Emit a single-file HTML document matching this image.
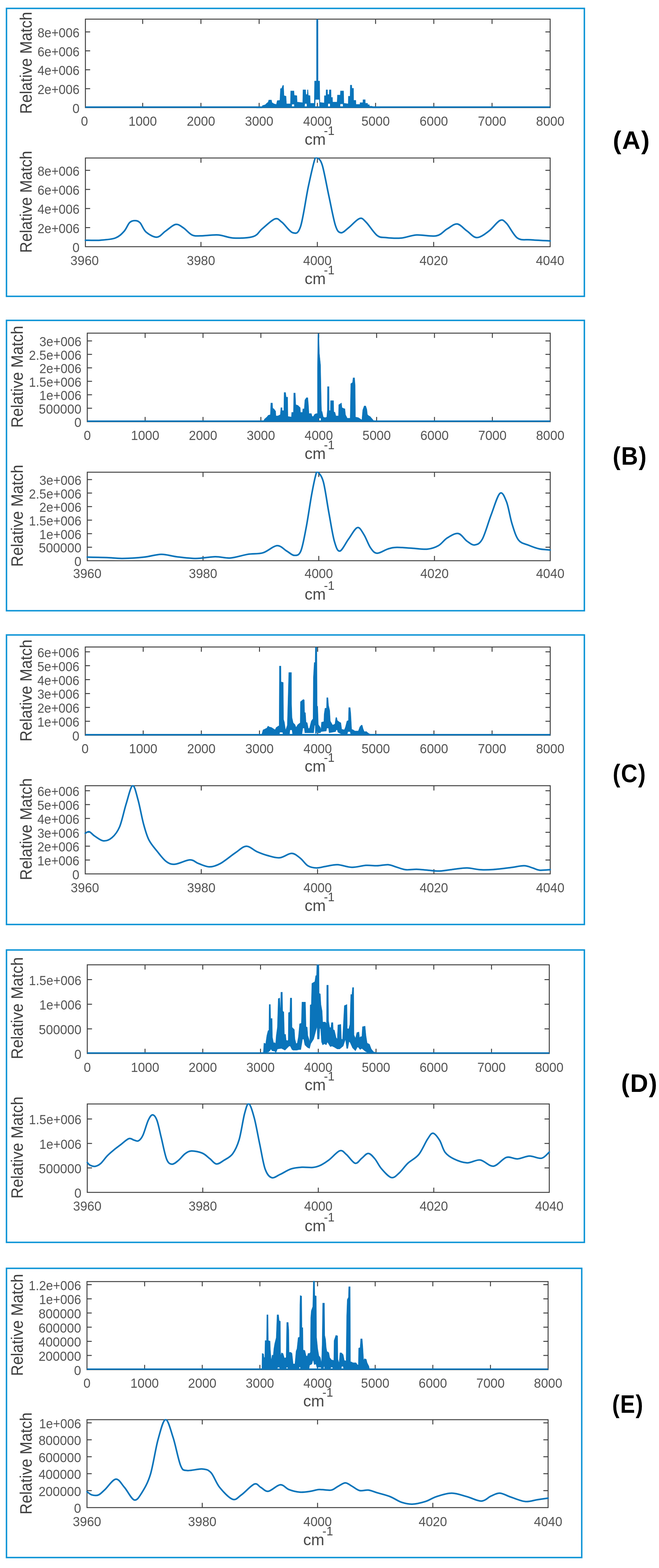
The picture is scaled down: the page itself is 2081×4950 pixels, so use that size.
<!DOCTYPE html>
<html><head><meta charset="utf-8"><title>Relative Match spectra</title>
<style>
html,body{margin:0;padding:0;background:#fff;}
body{width:2081px;height:4950px;overflow:hidden;}
svg{display:block;}
.t{font-family:"Liberation Sans", Arial, Helvetica, sans-serif;font-size:42px;fill:#555555;}
.xl{font-family:"Liberation Sans", Arial, Helvetica, sans-serif;font-size:50px;fill:#4a4a4a;}
.sup{font-size:38px;}
.yl{font-family:"Liberation Sans", Arial, Helvetica, sans-serif;font-size:51px;fill:#404040;}
.lab{font-family:"Liberation Sans", Arial, Helvetica, sans-serif;font-size:80px;font-weight:bold;fill:#000;letter-spacing:2.5px;}
</style></head><body>
<svg width="2081" height="4950" viewBox="0 0 2081 4950">
<rect width="2081" height="4950" fill="#fff"/>
<rect x="20.5" y="26.5" width="1824.8" height="909.0" fill="none" stroke="#0d94d6" stroke-width="4.6"/>
<rect x="269.7" y="60.4" width="1467.6" height="279.3" fill="none" stroke="#404040" stroke-width="3"/>
<text transform="translate(251.2,356.7) scale(0.96,1)" text-anchor="end" class="t">0</text>
<path d="M269.7,280.0h15M1737.3,280.0h-15" stroke="#404040" stroke-width="3"/>
<text transform="translate(251.2,297.0) scale(0.94,1)" text-anchor="end" class="t">2e+006</text>
<path d="M269.7,220.3h15M1737.3,220.3h-15" stroke="#404040" stroke-width="3"/>
<text transform="translate(251.2,237.3) scale(0.94,1)" text-anchor="end" class="t">4e+006</text>
<path d="M269.7,160.5h15M1737.3,160.5h-15" stroke="#404040" stroke-width="3"/>
<text transform="translate(251.2,177.5) scale(0.94,1)" text-anchor="end" class="t">6e+006</text>
<path d="M269.7,100.8h15M1737.3,100.8h-15" stroke="#404040" stroke-width="3"/>
<text transform="translate(251.2,117.8) scale(0.94,1)" text-anchor="end" class="t">8e+006</text>
<text transform="translate(266.8,397.0) scale(0.96,1)" text-anchor="middle" class="t">0</text>
<path d="M450.6,339.7v-15M450.6,60.4v15" stroke="#404040" stroke-width="3"/>
<text transform="translate(450.6,397.0) scale(0.96,1)" text-anchor="middle" class="t">1000</text>
<path d="M634.5,339.7v-15M634.5,60.4v15" stroke="#404040" stroke-width="3"/>
<text transform="translate(634.5,397.0) scale(0.96,1)" text-anchor="middle" class="t">2000</text>
<path d="M818.3,339.7v-15M818.3,60.4v15" stroke="#404040" stroke-width="3"/>
<text transform="translate(818.3,397.0) scale(0.96,1)" text-anchor="middle" class="t">3000</text>
<path d="M1002.2,339.7v-15M1002.2,60.4v15" stroke="#404040" stroke-width="3"/>
<text transform="translate(1002.2,397.0) scale(0.96,1)" text-anchor="middle" class="t">4000</text>
<path d="M1186.0,339.7v-15M1186.0,60.4v15" stroke="#404040" stroke-width="3"/>
<text transform="translate(1186.0,397.0) scale(0.96,1)" text-anchor="middle" class="t">5000</text>
<path d="M1369.9,339.7v-15M1369.9,60.4v15" stroke="#404040" stroke-width="3"/>
<text transform="translate(1369.9,397.0) scale(0.96,1)" text-anchor="middle" class="t">6000</text>
<path d="M1553.8,339.7v-15M1553.8,60.4v15" stroke="#404040" stroke-width="3"/>
<text transform="translate(1553.8,397.0) scale(0.96,1)" text-anchor="middle" class="t">7000</text>
<text transform="translate(1737.6,397.0) scale(0.96,1)" text-anchor="middle" class="t">8000</text>
<clipPath id="c60"><rect x="266.7" y="58.4" width="1473.6" height="283.3"/></clipPath>
<g clip-path="url(#c60)">
<line x1="269.7" y1="338.09999999999997" x2="1737.3" y2="338.09999999999997" stroke="#0a74ba" stroke-width="4.6"/>
<path d="M810.0,339.9 L811.0,339.9 L812.0,339.9 L813.0,339.9 L814.0,339.9 L815.0,339.9 L816.0,339.9 L817.0,339.9 L818.0,339.9 L819.0,339.9 L820.0,339.9 L821.0,339.9 L822.0,339.9 L823.0,339.9 L824.0,339.9 L825.0,339.9 L826.0,339.9 L827.0,339.9 L827.5,339.9 L828.0,336.7 L828.5,333.4 L829.0,333.3 L830.0,333.0 L831.0,332.7 L832.0,332.4 L833.0,332.1 L834.0,331.8 L835.0,331.5 L836.0,331.2 L837.0,330.9 L837.7,330.6 L838.0,330.3 L839.0,329.3 L840.0,328.3 L841.0,327.3 L842.0,326.3 L842.3,326.0 L843.0,325.5 L844.0,324.7 L845.0,323.9 L846.0,323.1 L846.9,322.3 L847.0,322.1 L848.0,318.6 L848.8,315.9 L849.0,315.9 L850.0,315.9 L851.0,315.9 L852.0,315.9 L853.0,315.9 L854.0,315.9 L855.0,315.9 L856.0,315.9 L857.0,315.9 L857.1,315.9 L858.0,320.0 L858.9,324.2 L859.0,324.2 L860.0,324.8 L861.0,325.4 L862.0,325.9 L863.0,326.5 L864.0,327.1 L865.0,327.6 L865.4,327.9 L866.0,328.0 L867.0,328.3 L868.0,328.5 L869.0,328.8 L870.0,329.0 L871.0,329.3 L872.0,329.5 L872.8,329.7 L873.0,328.8 L874.0,324.5 L875.0,320.1 L875.6,317.7 L876.0,317.7 L877.0,317.6 L878.0,317.4 L879.0,317.3 L880.0,317.2 L881.0,317.1 L882.0,317.0 L883.0,316.9 L883.9,316.8 L884.0,314.2 L885.0,294.2 L885.7,279.9 L886.0,279.8 L887.0,279.5 L888.0,279.3 L889.0,279.0 L889.4,278.9 L890.0,277.5 L891.0,275.0 L892.0,272.5 L893.0,270.0 L893.1,269.7 L894.0,269.7 L895.0,269.7 L895.3,269.7 L896.0,284.6 L896.8,302.0 L897.0,302.1 L898.0,302.4 L899.0,302.7 L900.0,302.9 L901.0,303.2 L902.0,303.5 L903.0,303.8 L903.3,303.9 L904.0,317.6 L904.6,327.9 L905.0,327.9 L906.0,327.9 L907.0,327.9 L908.0,327.9 L909.0,327.9 L910.0,327.9 L911.0,327.9 L912.0,327.9 L913.0,327.9 L914.0,327.9 L915.0,327.9 L916.0,327.9 L917.0,327.9 L917.1,327.9 L918.0,288.7 L918.0,287.2 L919.0,287.2 L920.0,287.2 L920.8,287.2 L921.0,287.2 L921.7,287.2 L922.0,287.2 L923.0,287.2 L924.0,287.2 L925.0,287.2 L926.0,287.2 L927.0,287.2 L928.0,287.2 L928.2,287.2 L929.0,299.4 L929.1,301.1 L930.0,301.2 L930.0,301.2 L931.0,301.3 L932.0,301.4 L933.0,301.5 L934.0,301.6 L935.0,301.8 L936.0,301.9 L937.0,302.0 L937.4,302.0 L938.0,314.7 L938.3,322.3 L939.0,322.4 L940.0,322.5 L941.0,322.6 L942.0,322.7 L943.0,322.8 L944.0,322.9 L945.0,323.0 L946.0,323.1 L947.0,323.2 L948.0,323.4 L949.0,323.5 L950.0,323.6 L951.0,323.7 L952.0,323.8 L953.0,323.9 L954.0,324.0 L955.0,324.1 L955.9,324.2 L956.0,319.4 L956.8,283.6 L957.0,283.6 L958.0,283.6 L959.0,283.6 L960.0,283.6 L961.0,283.6 L961.4,283.6 L962.0,283.6 L962.4,283.6 L963.0,283.6 L964.0,283.6 L965.0,283.6 L965.1,283.6 L966.0,297.6 L966.0,298.3 L967.0,298.3 L968.0,298.3 L968.8,298.3 L969.0,298.3 L969.7,298.3 L970.0,298.3 L970.3,298.3 L971.0,284.2 L971.0,283.6 L972.0,283.6 L972.5,283.6 L973.0,292.8 L973.4,301.1 L974.0,301.2 L975.0,301.4 L976.0,301.5 L977.0,301.7 L978.0,301.9 L979.0,302.0 L979.0,302.7 L979.9,326.0 L980.0,326.0 L981.0,326.0 L982.0,326.0 L983.0,326.0 L984.0,326.0 L985.0,326.0 L986.0,326.0 L987.0,326.0 L988.0,326.0 L989.0,326.0 L990.0,326.0 L991.0,326.0 L992.0,326.0 L992.5,326.0 L993.0,284.7 L993.4,255.9 L994.0,255.9 L994.7,255.9 L995.0,255.9 L995.6,255.9 L996.0,255.9 L997.0,255.9 L998.0,255.9 L999.0,255.9 L1000.0,255.9 L1001.0,255.9 L1002.0,255.9 L1003.0,255.9 L1004.0,255.9 L1005.0,255.9 L1006.0,255.9 L1007.0,255.9 L1008.0,255.9 L1008.3,255.9 L1009.0,255.9 L1009.2,255.9 L1010.0,311.8 L1010.2,323.3 L1011.0,323.4 L1012.0,323.5 L1013.0,323.6 L1014.0,323.8 L1015.0,323.9 L1016.0,324.0 L1017.0,324.2 L1018.0,324.3 L1019.0,324.4 L1020.0,324.6 L1021.0,324.7 L1022.0,324.8 L1023.0,325.0 L1024.0,325.1 L1024.0,325.1 L1024.4,302.0 L1025.0,302.0 L1026.0,302.0 L1027.0,302.0 L1028.0,302.0 L1029.0,302.0 L1029.5,302.0 L1029.9,283.6 L1030.0,283.6 L1031.0,283.6 L1032.0,283.6 L1033.0,283.6 L1034.0,283.6 L1034.2,283.6 L1034.5,298.3 L1035.0,298.3 L1035.1,298.3 L1035.5,298.3 L1036.0,298.3 L1037.0,298.3 L1038.0,298.3 L1039.0,298.3 L1039.7,298.3 L1040.0,286.5 L1040.1,283.6 L1041.0,283.6 L1042.0,283.6 L1042.5,283.6 L1042.8,283.6 L1043.0,283.6 L1044.0,283.6 L1045.0,283.6 L1045.2,283.6 L1045.6,307.6 L1046.0,307.6 L1047.0,307.6 L1048.0,307.6 L1049.0,307.6 L1049.9,307.6 L1050.0,313.1 L1050.2,322.3 L1051.0,322.3 L1052.0,322.3 L1053.0,322.3 L1054.0,322.3 L1055.0,322.3 L1056.0,322.3 L1057.0,322.3 L1058.0,322.3 L1059.0,322.3 L1060.0,322.3 L1061.0,322.3 L1062.0,322.3 L1063.0,322.3 L1064.0,322.3 L1064.6,322.3 L1065.0,313.6 L1065.6,300.2 L1066.0,300.2 L1067.0,300.2 L1068.0,300.2 L1069.0,300.2 L1070.0,300.2 L1071.0,300.2 L1072.0,300.2 L1073.0,300.2 L1073.9,300.2 L1074.0,300.2 L1074.2,300.2 L1074.8,300.2 L1075.0,292.9 L1075.2,287.2 L1076.0,287.2 L1077.0,287.2 L1078.0,287.2 L1079.0,287.2 L1080.0,287.2 L1081.0,287.2 L1082.0,287.2 L1083.0,287.2 L1083.1,287.2 L1083.5,287.2 L1084.0,287.2 L1084.9,287.2 L1085.0,289.4 L1085.9,326.0 L1086.0,326.0 L1087.0,326.2 L1088.0,326.3 L1089.0,326.4 L1090.0,326.6 L1091.0,326.7 L1092.0,326.8 L1093.0,327.0 L1094.0,327.1 L1095.0,327.2 L1096.0,327.4 L1097.0,327.5 L1098.0,327.6 L1099.0,327.8 L1099.7,327.9 L1100.0,309.9 L1100.1,303.9 L1101.0,303.9 L1102.0,303.9 L1103.0,303.9 L1104.0,303.9 L1105.0,303.9 L1105.6,303.9 L1106.0,280.6 L1106.2,268.8 L1107.0,268.8 L1108.0,268.8 L1109.0,268.8 L1110.0,268.8 L1110.8,268.8 L1111.0,274.2 L1111.2,278.9 L1112.0,278.9 L1113.0,278.9 L1114.0,278.9 L1115.0,278.9 L1116.0,278.9 L1116.3,278.9 L1116.7,316.8 L1117.0,316.8 L1118.0,316.8 L1119.0,316.8 L1120.0,316.8 L1121.0,316.8 L1122.0,316.8 L1123.0,316.8 L1123.7,316.8 L1124.0,326.2 L1124.1,329.7 L1125.0,329.7 L1126.0,329.7 L1127.0,329.7 L1128.0,329.7 L1129.0,329.7 L1130.0,329.7 L1131.0,329.7 L1132.0,329.7 L1133.0,329.7 L1134.0,329.7 L1135.0,329.7 L1136.0,329.7 L1136.7,329.7 L1137.0,324.6 L1137.0,324.2 L1138.0,324.2 L1139.0,324.2 L1140.0,324.2 L1141.0,324.2 L1142.0,324.2 L1143.0,324.2 L1144.0,324.2 L1145.0,324.2 L1145.9,324.2 L1146.0,321.5 L1146.3,314.9 L1147.0,314.9 L1148.0,314.9 L1149.0,314.9 L1150.0,314.9 L1151.0,314.9 L1152.0,314.9 L1153.0,314.9 L1153.3,314.9 L1153.6,326.0 L1154.0,326.0 L1155.0,326.0 L1156.0,326.0 L1157.0,326.0 L1158.0,326.0 L1159.0,326.0 L1160.0,326.0 L1160.7,326.0 L1161.0,330.2 L1161.0,330.6 L1162.0,330.6 L1163.0,330.6 L1164.0,330.6 L1165.0,330.6 L1166.0,330.6 L1166.2,330.6 L1166.6,335.3 L1167.0,335.3 L1168.0,335.3 L1169.0,335.3 L1170.0,335.3 L1171.0,335.3 L1172.0,335.3 L1173.0,335.3 L1174.0,335.3 L1175.0,335.3 L1175.4,335.3 L1176.0,338.1 L1176.4,339.9 L1177.0,339.9 L1178.0,339.9 L1179.0,339.9 L1180.0,339.9 L1181.0,339.9 L1182.0,339.9 L1183.0,339.9 L1184.0,339.9 L1185.0,339.9 L1186.0,339.9 L1187.0,339.9 L1188.0,339.9 L1189.0,339.9 L1190.0,339.9 L1191.0,339.9 L1192.0,339.9 L1193.0,339.9 L1194.0,339.9 L1195.0,339.9 L1196.0,339.9 L1197.0,339.9 L1198.0,339.9 L1199.0,339.9 L1200.0,339.9 L1200.0,340.9 L1199.0,340.9 L1198.0,340.9 L1197.0,340.9 L1196.0,340.9 L1195.0,340.9 L1194.0,340.9 L1193.0,340.9 L1192.0,340.9 L1191.0,340.9 L1190.0,340.9 L1189.0,340.9 L1188.0,340.9 L1187.0,340.9 L1186.0,340.9 L1185.0,340.9 L1184.0,340.9 L1183.0,340.9 L1182.0,340.9 L1181.0,340.9 L1180.0,340.9 L1179.0,340.9 L1178.0,340.9 L1177.0,340.9 L1176.4,340.9 L1176.0,339.1 L1175.4,338.7 L1175.0,338.7 L1174.0,338.7 L1173.0,338.7 L1172.0,338.7 L1171.0,338.7 L1170.0,338.7 L1169.0,338.7 L1168.0,338.7 L1167.0,338.7 L1166.6,338.7 L1166.2,338.7 L1166.0,338.7 L1165.0,338.7 L1164.0,338.7 L1163.0,338.7 L1162.0,338.7 L1161.0,338.7 L1161.0,338.7 L1160.7,338.7 L1160.0,338.7 L1159.0,338.7 L1158.0,338.7 L1157.0,338.7 L1156.0,338.7 L1155.0,338.7 L1154.0,338.7 L1153.6,338.7 L1153.3,338.7 L1153.0,338.7 L1152.0,338.7 L1151.0,338.7 L1150.0,338.7 L1149.0,338.7 L1148.0,338.7 L1147.0,338.7 L1146.3,338.7 L1146.0,338.7 L1145.9,338.7 L1145.0,338.7 L1144.0,338.7 L1143.0,338.7 L1142.0,338.7 L1141.0,338.7 L1140.0,338.7 L1139.0,338.7 L1138.0,338.7 L1137.0,338.7 L1137.0,338.7 L1136.7,338.7 L1136.0,338.7 L1135.0,338.7 L1134.0,338.7 L1133.0,338.7 L1132.0,338.7 L1131.0,338.7 L1130.0,338.7 L1129.0,338.7 L1128.0,338.7 L1127.0,338.7 L1126.0,338.7 L1125.0,338.7 L1124.1,338.7 L1124.0,338.7 L1123.7,338.7 L1123.0,338.7 L1122.0,338.7 L1121.0,338.7 L1120.0,338.7 L1119.0,338.7 L1118.0,338.7 L1117.0,338.7 L1116.7,338.7 L1116.3,338.7 L1116.0,338.7 L1115.0,338.7 L1114.0,338.7 L1113.0,338.7 L1112.0,338.7 L1111.2,338.7 L1111.0,338.7 L1110.8,338.7 L1110.0,338.7 L1109.0,338.7 L1108.0,338.7 L1107.0,338.7 L1106.2,338.7 L1106.0,338.7 L1105.6,338.7 L1105.0,338.7 L1104.0,338.7 L1103.0,338.7 L1102.0,338.7 L1101.0,338.7 L1100.1,338.7 L1100.0,338.7 L1099.7,338.7 L1099.0,338.7 L1098.0,338.7 L1097.0,338.7 L1096.0,338.7 L1095.0,338.7 L1094.0,338.7 L1093.0,338.7 L1092.0,338.7 L1091.0,338.7 L1090.0,338.7 L1089.0,338.7 L1088.0,338.7 L1087.0,338.7 L1086.0,338.7 L1085.9,338.7 L1085.0,338.7 L1084.9,338.7 L1084.0,338.7 L1083.5,338.7 L1083.1,327.9 L1083.0,327.9 L1082.0,327.9 L1081.0,327.9 L1080.0,327.9 L1079.0,327.9 L1078.0,327.9 L1077.0,327.9 L1076.0,327.9 L1075.2,327.9 L1075.0,327.9 L1074.8,327.9 L1074.2,327.9 L1074.0,335.6 L1073.9,338.7 L1073.0,338.7 L1072.0,338.7 L1071.0,338.7 L1070.0,338.7 L1069.0,338.7 L1068.0,338.7 L1067.0,338.7 L1066.0,338.7 L1065.6,338.7 L1065.0,338.7 L1064.6,338.7 L1064.0,338.7 L1063.0,338.7 L1062.0,338.7 L1061.0,338.7 L1060.0,338.7 L1059.0,338.7 L1058.0,338.7 L1057.0,338.7 L1056.0,338.7 L1055.0,338.7 L1054.0,338.7 L1053.0,338.7 L1052.0,338.7 L1051.0,338.7 L1050.2,338.7 L1050.0,338.7 L1049.9,338.7 L1049.0,338.7 L1048.0,338.7 L1047.0,338.7 L1046.0,338.7 L1045.6,338.7 L1045.2,338.7 L1045.0,338.7 L1044.0,338.7 L1043.0,338.7 L1042.8,338.7 L1042.5,327.0 L1042.0,327.0 L1041.0,327.0 L1040.1,327.0 L1040.0,327.0 L1039.7,327.0 L1039.0,327.0 L1038.0,327.0 L1037.0,327.0 L1036.0,327.0 L1035.5,327.0 L1035.1,338.7 L1035.0,338.7 L1034.5,338.7 L1034.2,338.7 L1034.0,338.7 L1033.0,338.7 L1032.0,338.7 L1031.0,338.7 L1030.0,338.7 L1029.9,338.7 L1029.5,338.7 L1029.0,338.7 L1028.0,338.7 L1027.0,338.7 L1026.0,338.7 L1025.0,338.7 L1024.4,338.7 L1024.0,338.7 L1024.0,338.7 L1023.0,338.7 L1022.0,338.7 L1021.0,338.7 L1020.0,338.7 L1019.0,338.7 L1018.0,338.7 L1017.0,338.7 L1016.0,338.7 L1015.0,338.7 L1014.0,338.7 L1013.0,338.7 L1012.0,338.7 L1011.0,338.7 L1010.2,338.7 L1010.0,338.7 L1009.2,338.7 L1009.0,333.3 L1008.3,314.0 L1008.0,314.0 L1007.0,314.0 L1006.0,314.0 L1005.0,314.0 L1004.0,314.0 L1003.0,314.0 L1002.0,314.0 L1001.0,314.0 L1000.0,314.0 L999.0,314.0 L998.0,314.0 L997.0,314.0 L996.0,314.0 L995.6,314.0 L995.0,330.7 L994.7,338.7 L994.0,338.7 L993.4,338.7 L993.0,338.7 L992.5,338.7 L992.0,338.7 L991.0,338.7 L990.0,338.7 L989.0,338.7 L988.0,338.7 L987.0,338.7 L986.0,338.7 L985.0,338.7 L984.0,338.7 L983.0,338.7 L982.0,338.7 L981.0,338.7 L980.0,338.7 L979.9,338.7 L979.0,338.7 L979.0,338.7 L978.0,338.7 L977.0,338.7 L976.0,338.7 L975.0,338.7 L974.0,338.7 L973.4,338.7 L973.0,338.7 L972.5,338.7 L972.0,338.7 L971.0,338.7 L971.0,338.7 L970.3,338.7 L970.0,338.7 L969.7,338.7 L969.0,329.5 L968.8,327.0 L968.0,327.0 L967.0,327.0 L966.0,327.0 L966.0,327.0 L965.1,327.0 L965.0,327.0 L964.0,327.0 L963.0,327.0 L962.4,327.0 L962.0,331.9 L961.4,338.7 L961.0,338.7 L960.0,338.7 L959.0,338.7 L958.0,338.7 L957.0,338.7 L956.8,338.7 L956.0,338.7 L955.9,338.7 L955.0,338.7 L954.0,338.7 L953.0,338.7 L952.0,338.7 L951.0,338.7 L950.0,338.7 L949.0,338.7 L948.0,338.7 L947.0,338.7 L946.0,338.7 L945.0,338.7 L944.0,338.7 L943.0,338.7 L942.0,338.7 L941.0,338.7 L940.0,338.7 L939.0,338.7 L938.3,338.7 L938.0,338.7 L937.4,338.7 L937.0,338.7 L936.0,338.7 L935.0,338.7 L934.0,338.7 L933.0,338.7 L932.0,338.7 L931.0,338.7 L930.0,338.7 L930.0,338.7 L929.1,328.8 L929.0,328.8 L928.2,328.8 L928.0,328.8 L927.0,328.8 L926.0,328.8 L925.0,328.8 L924.0,328.8 L923.0,328.8 L922.0,328.8 L921.7,328.8 L921.0,337.5 L920.8,338.7 L920.0,338.7 L919.0,338.7 L918.0,338.7 L918.0,338.7 L917.1,338.7 L917.0,338.7 L916.0,338.7 L915.0,338.7 L914.0,338.7 L913.0,338.7 L912.0,338.7 L911.0,338.7 L910.0,338.7 L909.0,338.7 L908.0,338.7 L907.0,338.7 L906.0,338.7 L905.0,338.7 L904.6,338.7 L904.0,338.7 L903.3,338.7 L903.0,338.7 L902.0,338.7 L901.0,338.7 L900.0,338.7 L899.0,338.7 L898.0,338.7 L897.0,338.7 L896.8,338.7 L896.0,338.7 L895.3,338.7 L895.0,338.7 L894.0,338.7 L893.1,338.7 L893.0,338.7 L892.0,338.7 L891.0,338.7 L890.0,338.7 L889.4,338.7 L889.0,338.7 L888.0,338.7 L887.0,338.7 L886.0,338.7 L885.7,338.7 L885.0,338.7 L884.0,338.7 L883.9,338.7 L883.0,338.7 L882.0,338.7 L881.0,338.7 L880.0,338.7 L879.0,338.7 L878.0,338.7 L877.0,338.7 L876.0,338.7 L875.6,338.7 L875.0,338.7 L874.0,338.7 L873.0,338.7 L872.8,338.7 L872.0,338.7 L871.0,338.7 L870.0,338.7 L869.0,338.7 L868.0,338.7 L867.0,338.7 L866.0,338.7 L865.4,338.7 L865.0,338.7 L864.0,338.7 L863.0,338.7 L862.0,338.7 L861.0,338.7 L860.0,338.7 L859.0,338.7 L858.9,338.7 L858.0,338.7 L857.1,338.7 L857.0,338.7 L856.0,338.7 L855.0,338.7 L854.0,338.7 L853.0,338.7 L852.0,338.7 L851.0,338.7 L850.0,338.7 L849.0,338.7 L848.8,338.7 L848.0,338.7 L847.0,338.7 L846.9,338.7 L846.0,338.7 L845.0,338.7 L844.0,338.7 L843.0,338.7 L842.3,338.7 L842.0,338.7 L841.0,338.7 L840.0,338.7 L839.0,338.7 L838.0,338.7 L837.7,338.7 L837.0,338.7 L836.0,338.7 L835.0,338.7 L834.0,338.7 L833.0,338.7 L832.0,338.7 L831.0,338.7 L830.0,338.7 L829.0,338.7 L828.5,338.7 L828.0,338.7 L827.5,340.9 L827.0,340.9 L826.0,340.9 L825.0,340.9 L824.0,340.9 L823.0,340.9 L822.0,340.9 L821.0,340.9 L820.0,340.9 L819.0,340.9 L818.0,340.9 L817.0,340.9 L816.0,340.9 L815.0,340.9 L814.0,340.9 L813.0,340.9 L812.0,340.9 L811.0,340.9 L810.0,340.9 Z" fill="#0a74ba" stroke="#0a74ba" stroke-width="1.2" stroke-linejoin="miter"/>
<path d="M999.3,257.0 L999.6,61.0 L1004.2,61.0 L1004.5,257.0 Z" fill="#0a74ba" stroke="#0a74ba" stroke-width="1"/>
</g>
<text x="962.0" y="457.3" class="xl">cm<tspan class="sup" dx="-6" dy="-31">-1</tspan></text>
<text transform="translate(99.5,198.5) rotate(-90)" text-anchor="middle" class="yl" textLength="322" lengthAdjust="spacingAndGlyphs">Relative Match</text>
<rect x="269.7" y="498.8" width="1467.6" height="279.99999999999994" fill="none" stroke="#404040" stroke-width="3"/>
<text transform="translate(251.2,795.8) scale(0.96,1)" text-anchor="end" class="t">0</text>
<path d="M269.7,718.5h15M1737.3,718.5h-15" stroke="#404040" stroke-width="3"/>
<text transform="translate(251.2,735.5) scale(0.94,1)" text-anchor="end" class="t">2e+006</text>
<path d="M269.7,658.2h15M1737.3,658.2h-15" stroke="#404040" stroke-width="3"/>
<text transform="translate(251.2,675.2) scale(0.94,1)" text-anchor="end" class="t">4e+006</text>
<path d="M269.7,598.0h15M1737.3,598.0h-15" stroke="#404040" stroke-width="3"/>
<text transform="translate(251.2,615.0) scale(0.94,1)" text-anchor="end" class="t">6e+006</text>
<path d="M269.7,537.7h15M1737.3,537.7h-15" stroke="#404040" stroke-width="3"/>
<text transform="translate(251.2,554.7) scale(0.94,1)" text-anchor="end" class="t">8e+006</text>
<text transform="translate(267.2,837.2) scale(0.96,1)" text-anchor="middle" class="t">3960</text>
<path d="M634.6,778.8v-15M634.6,498.8v15" stroke="#404040" stroke-width="3"/>
<text transform="translate(634.6,837.2) scale(0.96,1)" text-anchor="middle" class="t">3980</text>
<path d="M1002.1,778.8v-15M1002.1,498.8v15" stroke="#404040" stroke-width="3"/>
<text transform="translate(1002.1,837.2) scale(0.96,1)" text-anchor="middle" class="t">4000</text>
<path d="M1369.5,778.8v-15M1369.5,498.8v15" stroke="#404040" stroke-width="3"/>
<text transform="translate(1369.5,837.2) scale(0.96,1)" text-anchor="middle" class="t">4020</text>
<text transform="translate(1737.0,837.2) scale(0.96,1)" text-anchor="middle" class="t">4040</text>
<clipPath id="c498"><rect x="266.7" y="496.8" width="1473.6" height="283.99999999999994"/></clipPath>
<g clip-path="url(#c498)">
<path d="M269.7,758.4 C277.3,758.4 299.7,759.5 315.4,758.4 C331.1,757.2 351.2,756.1 363.9,751.5 C376.6,746.9 384.1,738.6 391.6,730.5 C399.1,722.4 403.4,708.7 409.0,703.0 C414.6,697.3 420.0,696.5 425.5,696.5 C431.0,696.5 436.0,697.0 442.0,703.0 C448.0,709.0 452.4,725.0 461.3,732.6 C470.2,740.2 485.2,749.2 495.5,748.7 C505.8,748.2 513.4,736.0 523.2,729.3 C533.0,722.6 545.1,710.2 554.3,708.5 C563.5,706.8 569.9,713.4 578.6,718.9 C587.3,724.4 597.1,737.5 606.3,741.8 C615.5,746.1 620.1,744.5 634.0,744.5 C647.9,744.5 672.1,740.6 689.4,741.8 C706.7,743.0 719.3,750.7 737.8,751.5 C756.3,752.3 785.2,751.5 800.2,746.6 C815.2,741.8 816.6,731.6 827.9,722.4 C839.2,713.2 857.6,694.7 868.0,691.2 C878.4,687.7 880.7,694.3 890.2,701.6 C899.7,708.9 915.0,732.5 924.8,734.8 C934.6,737.1 940.9,739.5 949.0,715.5 C957.1,691.5 965.8,626.2 973.3,590.8 C980.8,555.4 989.3,518.5 994.0,503.0 C998.7,487.4 997.5,494.4 1001.5,497.5 C1005.5,500.6 1011.5,501.4 1017.7,521.6 C1023.9,541.8 1031.6,586.8 1038.5,618.5 C1045.4,650.2 1053.0,692.6 1059.3,712.0 C1065.6,731.4 1069.7,733.6 1076.6,734.8 C1083.5,735.9 1091.0,726.4 1100.8,718.9 C1110.6,711.4 1126.2,692.7 1135.4,689.8 C1144.6,686.9 1147.0,692.7 1156.2,701.6 C1165.4,710.5 1180.4,735.1 1190.8,743.2 C1201.2,751.3 1205.8,748.7 1218.5,750.1 C1231.2,751.5 1250.8,752.9 1267.0,751.5 C1283.2,750.1 1297.0,743.0 1315.5,741.8 C1334.0,740.6 1361.6,747.7 1377.8,744.5 C1394.0,741.3 1401.4,728.6 1412.4,722.4 C1423.4,716.2 1433.2,706.0 1443.6,707.1 C1454.0,708.2 1464.4,722.1 1474.8,729.3 C1485.2,736.5 1494.4,750.1 1505.9,750.1 C1517.4,750.1 1531.9,738.3 1544.0,729.3 C1556.1,720.3 1569.4,700.1 1578.6,696.1 C1587.8,692.1 1590.2,695.8 1599.4,705.0 C1608.6,714.2 1621.3,742.8 1634.0,751.5 C1646.7,760.2 1658.4,755.5 1675.6,757.0 C1692.8,758.5 1727.0,759.9 1737.3,760.5" fill="none" stroke="#0a74ba" stroke-width="5.0" stroke-linejoin="round" stroke-linecap="round"/>
</g>
<text x="962.0" y="897.4" class="xl">cm<tspan class="sup" dx="-6" dy="-31">-1</tspan></text>
<text transform="translate(99.5,637.2) rotate(-90)" text-anchor="middle" class="yl" textLength="322" lengthAdjust="spacingAndGlyphs">Relative Match</text>
<text transform="translate(1935.3,470.3) scale(1.0,1)" class="lab">(A)</text>
<rect x="20.5" y="1011.4" width="1824.8" height="916.6" fill="none" stroke="#0d94d6" stroke-width="4.6"/>
<rect x="275.6" y="1051.7" width="1461.9" height="279.5" fill="none" stroke="#404040" stroke-width="3"/>
<text transform="translate(257.1,1348.2) scale(0.96,1)" text-anchor="end" class="t">0</text>
<path d="M275.6,1288.7h15M1737.5,1288.7h-15" stroke="#404040" stroke-width="3"/>
<text transform="translate(257.1,1305.7) scale(0.96,1)" text-anchor="end" class="t">500000</text>
<path d="M275.6,1246.2h15M1737.5,1246.2h-15" stroke="#404040" stroke-width="3"/>
<text transform="translate(257.1,1263.2) scale(0.94,1)" text-anchor="end" class="t">1e+006</text>
<path d="M275.6,1203.7h15M1737.5,1203.7h-15" stroke="#404040" stroke-width="3"/>
<text transform="translate(257.1,1220.7) scale(0.94,1)" text-anchor="end" class="t">1.5e+006</text>
<path d="M275.6,1161.2h15M1737.5,1161.2h-15" stroke="#404040" stroke-width="3"/>
<text transform="translate(257.1,1178.2) scale(0.94,1)" text-anchor="end" class="t">2e+006</text>
<path d="M275.6,1118.7h15M1737.5,1118.7h-15" stroke="#404040" stroke-width="3"/>
<text transform="translate(257.1,1135.7) scale(0.94,1)" text-anchor="end" class="t">2.5e+006</text>
<path d="M275.6,1076.2h15M1737.5,1076.2h-15" stroke="#404040" stroke-width="3"/>
<text transform="translate(257.1,1093.2) scale(0.94,1)" text-anchor="end" class="t">3e+006</text>
<text transform="translate(275.6,1388.8) scale(0.96,1)" text-anchor="middle" class="t">0</text>
<path d="M458.3,1331.2v-15M458.3,1051.7v15" stroke="#404040" stroke-width="3"/>
<text transform="translate(458.3,1388.8) scale(0.96,1)" text-anchor="middle" class="t">1000</text>
<path d="M641.1,1331.2v-15M641.1,1051.7v15" stroke="#404040" stroke-width="3"/>
<text transform="translate(641.1,1388.8) scale(0.96,1)" text-anchor="middle" class="t">2000</text>
<path d="M823.8,1331.2v-15M823.8,1051.7v15" stroke="#404040" stroke-width="3"/>
<text transform="translate(823.8,1388.8) scale(0.96,1)" text-anchor="middle" class="t">3000</text>
<path d="M1006.6,1331.2v-15M1006.6,1051.7v15" stroke="#404040" stroke-width="3"/>
<text transform="translate(1006.6,1388.8) scale(0.96,1)" text-anchor="middle" class="t">4000</text>
<path d="M1189.3,1331.2v-15M1189.3,1051.7v15" stroke="#404040" stroke-width="3"/>
<text transform="translate(1189.3,1388.8) scale(0.96,1)" text-anchor="middle" class="t">5000</text>
<path d="M1372.0,1331.2v-15M1372.0,1051.7v15" stroke="#404040" stroke-width="3"/>
<text transform="translate(1372.0,1388.8) scale(0.96,1)" text-anchor="middle" class="t">6000</text>
<path d="M1554.8,1331.2v-15M1554.8,1051.7v15" stroke="#404040" stroke-width="3"/>
<text transform="translate(1554.8,1388.8) scale(0.96,1)" text-anchor="middle" class="t">7000</text>
<text transform="translate(1737.5,1388.8) scale(0.96,1)" text-anchor="middle" class="t">8000</text>
<clipPath id="c1051"><rect x="272.6" y="1049.7" width="1467.9" height="283.5"/></clipPath>
<g clip-path="url(#c1051)">
<line x1="275.6" y1="1329.6000000000001" x2="1737.5" y2="1329.6000000000001" stroke="#0a74ba" stroke-width="4.6"/>
<path d="M815.0,1330.5 L816.0,1330.5 L817.0,1330.5 L818.0,1330.5 L819.0,1330.5 L820.0,1330.5 L821.0,1330.5 L822.0,1330.5 L823.0,1330.5 L824.0,1330.5 L825.0,1330.5 L826.0,1330.5 L827.0,1330.5 L828.0,1330.5 L829.0,1330.5 L830.0,1330.5 L831.0,1330.5 L831.6,1330.5 L832.0,1329.7 L833.0,1327.7 L834.0,1325.7 L835.0,1323.7 L835.3,1323.1 L836.0,1322.5 L837.0,1321.6 L838.0,1320.8 L839.0,1319.9 L840.0,1319.0 L841.0,1318.1 L842.0,1317.3 L842.7,1316.7 L843.0,1316.3 L844.0,1315.1 L845.0,1313.9 L846.0,1312.7 L847.0,1311.5 L847.3,1311.1 L848.0,1310.9 L849.0,1310.6 L850.0,1310.4 L851.0,1310.1 L852.0,1309.8 L853.0,1309.5 L853.8,1309.3 L854.0,1303.8 L855.0,1278.8 L855.3,1272.3 L856.0,1272.3 L857.0,1272.3 L858.0,1272.3 L859.0,1272.3 L860.0,1272.3 L860.2,1272.3 L861.0,1285.9 L861.2,1289.0 L862.0,1289.4 L863.0,1289.9 L864.0,1290.4 L864.9,1290.8 L865.0,1291.0 L866.0,1292.3 L867.0,1293.7 L868.0,1295.0 L869.0,1296.3 L870.0,1297.7 L870.4,1298.2 L871.0,1307.8 L871.3,1313.0 L872.0,1313.0 L873.0,1313.0 L874.0,1313.0 L875.0,1313.0 L876.0,1313.0 L877.0,1313.0 L877.8,1313.0 L878.0,1312.9 L879.0,1312.4 L880.0,1311.9 L881.0,1311.4 L882.0,1310.9 L883.0,1310.4 L884.0,1309.9 L885.0,1309.4 L885.2,1309.3 L886.0,1299.4 L887.0,1287.4 L887.0,1287.1 L888.0,1287.1 L889.0,1287.1 L890.0,1287.1 L890.7,1287.1 L891.0,1294.2 L891.1,1296.3 L892.0,1296.3 L893.0,1296.3 L894.0,1296.3 L895.0,1296.3 L896.0,1296.3 L896.3,1296.3 L897.0,1250.2 L897.2,1239.1 L898.0,1239.1 L899.0,1239.1 L900.0,1239.1 L901.0,1239.1 L901.8,1239.1 L902.0,1240.7 L903.0,1248.7 L903.6,1253.9 L904.0,1253.9 L905.0,1253.9 L906.0,1253.9 L907.0,1253.9 L908.0,1253.9 L908.3,1253.9 L909.0,1302.7 L909.2,1314.8 L910.0,1314.9 L911.0,1315.1 L912.0,1315.3 L913.0,1315.4 L914.0,1315.6 L915.0,1315.8 L916.0,1315.9 L917.0,1316.1 L918.0,1316.3 L919.0,1316.4 L920.0,1316.6 L920.3,1316.7 L921.0,1304.9 L921.2,1301.9 L922.0,1301.9 L923.0,1301.9 L924.0,1301.9 L925.0,1301.9 L926.0,1301.9 L926.7,1301.9 L927.0,1283.8 L927.7,1240.9 L928.0,1240.9 L929.0,1240.9 L930.0,1240.9 L931.0,1240.9 L932.0,1240.9 L932.3,1240.9 L933.0,1255.6 L934.0,1275.6 L934.1,1277.9 L935.0,1278.1 L936.0,1278.4 L937.0,1278.7 L938.0,1279.0 L939.0,1279.3 L940.0,1279.6 L940.6,1279.7 L941.0,1280.1 L942.0,1281.1 L943.0,1282.1 L944.0,1283.1 L944.3,1283.4 L945.0,1284.1 L946.0,1285.1 L947.0,1286.1 L948.0,1287.1 L948.0,1287.7 L948.9,1301.9 L949.0,1301.9 L950.0,1301.9 L951.0,1301.9 L952.0,1301.9 L953.0,1301.9 L954.0,1301.9 L955.0,1301.9 L955.4,1301.9 L956.0,1294.1 L956.3,1290.8 L957.0,1290.8 L958.0,1290.8 L959.0,1290.8 L960.0,1290.8 L960.9,1290.8 L961.0,1289.2 L962.0,1274.2 L962.7,1263.1 L963.0,1262.7 L964.0,1261.1 L965.0,1259.5 L966.0,1257.9 L967.0,1256.3 L967.4,1255.7 L968.0,1255.7 L969.0,1255.7 L970.0,1255.7 L971.0,1255.7 L972.0,1255.7 L972.0,1256.0 L973.0,1267.0 L973.8,1276.0 L974.0,1278.9 L975.0,1294.9 L975.7,1305.6 L976.0,1305.6 L977.0,1305.6 L978.0,1305.6 L979.0,1305.6 L980.0,1305.6 L981.0,1305.6 L982.0,1305.6 L983.0,1305.6 L983.1,1305.6 L984.0,1308.7 L985.0,1312.1 L985.8,1314.8 L986.0,1314.8 L987.0,1314.8 L988.0,1314.8 L989.0,1314.8 L989.5,1314.8 L990.0,1314.0 L991.0,1312.4 L992.0,1310.8 L993.0,1309.2 L994.0,1307.6 L994.1,1307.4 L995.0,1307.1 L996.0,1306.8 L997.0,1306.5 L998.0,1306.1 L999.0,1305.8 L999.7,1305.6 L1000.0,1305.6 L1001.0,1305.6 L1001.5,1305.6 L1002.0,1306.7 L1002.4,1307.4 L1003.0,1307.4 L1004.0,1307.4 L1005.0,1307.4 L1006.0,1307.4 L1006.1,1307.4 L1006.4,1307.4 L1007.0,1307.4 L1008.0,1307.4 L1009.0,1307.4 L1010.0,1307.4 L1011.0,1307.4 L1012.0,1307.4 L1013.0,1307.4 L1013.5,1307.4 L1013.8,1307.4 L1014.0,1307.4 L1015.0,1307.4 L1016.0,1307.4 L1016.2,1307.4 L1016.8,1298.2 L1017.0,1299.1 L1018.0,1303.7 L1019.0,1308.2 L1020.0,1312.8 L1020.9,1316.7 L1021.0,1316.7 L1022.0,1317.0 L1023.0,1317.4 L1024.0,1317.7 L1025.0,1318.0 L1026.0,1318.4 L1026.4,1318.5 L1027.0,1318.3 L1028.0,1318.0 L1029.0,1317.6 L1030.0,1317.3 L1031.0,1317.0 L1031.9,1316.7 L1032.0,1315.9 L1033.0,1303.9 L1033.8,1294.5 L1034.0,1250.7 L1034.2,1220.6 L1035.0,1220.6 L1036.0,1220.6 L1037.0,1220.6 L1038.0,1220.6 L1039.0,1220.6 L1039.0,1230.5 L1039.3,1296.3 L1040.0,1296.3 L1041.0,1296.3 L1042.0,1296.3 L1043.0,1296.3 L1043.4,1296.3 L1043.9,1264.9 L1044.0,1264.9 L1045.0,1264.9 L1046.0,1264.9 L1047.0,1264.9 L1048.0,1264.9 L1049.0,1264.9 L1050.0,1264.9 L1051.0,1264.9 L1052.0,1264.9 L1053.0,1264.9 L1053.2,1264.9 L1054.0,1296.4 L1054.1,1300.0 L1055.0,1300.5 L1056.0,1301.0 L1057.0,1301.5 L1057.8,1301.9 L1058.0,1302.7 L1059.0,1306.7 L1060.0,1310.7 L1060.6,1313.0 L1061.0,1313.0 L1062.0,1313.0 L1063.0,1313.0 L1064.0,1313.0 L1065.0,1313.0 L1066.0,1313.0 L1067.0,1313.0 L1068.0,1313.0 L1068.9,1313.0 L1069.0,1308.0 L1069.8,1277.9 L1070.0,1277.7 L1071.0,1277.1 L1072.0,1276.4 L1073.0,1275.7 L1074.0,1275.1 L1075.0,1274.4 L1076.0,1273.7 L1077.0,1273.1 L1078.0,1272.4 L1078.1,1272.3 L1079.0,1279.5 L1079.9,1287.1 L1080.0,1287.1 L1081.0,1287.6 L1082.0,1288.1 L1083.0,1288.6 L1083.6,1289.0 L1084.0,1289.1 L1085.0,1289.4 L1086.0,1289.7 L1087.0,1290.1 L1088.0,1290.4 L1089.0,1290.7 L1089.2,1290.8 L1090.0,1299.0 L1091.0,1309.0 L1091.0,1309.3 L1092.0,1311.2 L1093.0,1313.2 L1094.0,1315.2 L1095.0,1317.2 L1096.0,1319.2 L1096.6,1320.4 L1097.0,1320.4 L1098.0,1320.4 L1099.0,1320.4 L1100.0,1320.4 L1101.0,1320.4 L1102.0,1320.4 L1103.0,1320.4 L1104.0,1320.4 L1105.0,1320.4 L1105.8,1320.4 L1106.0,1308.7 L1107.0,1249.7 L1107.7,1211.4 L1108.0,1211.2 L1109.0,1210.5 L1110.0,1209.8 L1111.0,1209.2 L1112.0,1208.5 L1113.0,1207.8 L1113.2,1207.7 L1114.0,1201.2 L1115.0,1193.2 L1115.0,1192.9 L1116.0,1192.9 L1117.0,1192.9 L1118.0,1192.9 L1119.0,1192.9 L1119.7,1192.9 L1120.0,1197.4 L1121.0,1210.4 L1121.5,1216.9 L1122.0,1270.9 L1122.4,1316.7 L1123.0,1316.8 L1124.0,1317.0 L1125.0,1317.2 L1126.0,1317.4 L1127.0,1317.6 L1128.0,1317.8 L1129.0,1318.0 L1130.0,1318.2 L1131.0,1318.4 L1131.7,1318.5 L1132.0,1318.7 L1133.0,1319.4 L1134.0,1320.1 L1135.0,1320.7 L1136.0,1321.4 L1137.0,1322.1 L1138.0,1322.7 L1139.0,1323.4 L1140.0,1324.1 L1141.0,1324.7 L1142.0,1325.4 L1142.7,1325.9 L1143.0,1322.9 L1144.0,1311.6 L1145.0,1300.3 L1145.5,1294.5 L1146.0,1293.1 L1147.0,1290.3 L1148.0,1287.5 L1149.0,1284.7 L1150.0,1281.9 L1150.1,1281.6 L1151.0,1281.6 L1152.0,1281.6 L1153.0,1281.6 L1154.0,1281.6 L1154.7,1281.6 L1155.0,1282.3 L1156.0,1285.3 L1157.0,1288.3 L1158.0,1291.3 L1158.4,1292.7 L1159.0,1297.7 L1160.0,1306.7 L1160.3,1309.3 L1161.0,1309.8 L1162.0,1310.6 L1163.0,1311.4 L1164.0,1312.2 L1164.9,1313.0 L1165.0,1313.0 L1166.0,1313.5 L1167.0,1314.0 L1168.0,1314.5 L1168.6,1314.8 L1169.0,1315.3 L1170.0,1316.5 L1171.0,1317.6 L1172.0,1318.8 L1173.0,1320.0 L1174.0,1321.1 L1175.0,1322.3 L1176.0,1323.5 L1177.0,1324.6 L1178.0,1325.8 L1179.0,1327.0 L1179.7,1327.7 L1180.0,1327.9 L1181.0,1328.4 L1182.0,1328.9 L1183.0,1329.4 L1184.0,1329.9 L1185.0,1330.4 L1185.2,1330.5 L1186.0,1330.5 L1187.0,1330.5 L1188.0,1330.5 L1189.0,1330.5 L1190.0,1330.5 L1191.0,1330.5 L1192.0,1330.5 L1193.0,1330.5 L1194.0,1330.5 L1195.0,1330.5 L1195.0,1331.5 L1194.0,1331.5 L1193.0,1331.5 L1192.0,1331.5 L1191.0,1331.5 L1190.0,1331.5 L1189.0,1331.5 L1188.0,1331.5 L1187.0,1331.5 L1186.0,1331.5 L1185.2,1331.5 L1185.0,1331.4 L1184.0,1330.9 L1183.0,1330.4 L1182.0,1330.2 L1181.0,1330.2 L1180.0,1330.2 L1179.7,1330.2 L1179.0,1330.2 L1178.0,1330.2 L1177.0,1330.2 L1176.0,1330.2 L1175.0,1330.2 L1174.0,1330.2 L1173.0,1330.2 L1172.0,1330.2 L1171.0,1330.2 L1170.0,1330.2 L1169.0,1330.2 L1168.6,1330.2 L1168.0,1330.2 L1167.0,1330.2 L1166.0,1330.2 L1165.0,1330.2 L1164.9,1330.2 L1164.0,1330.2 L1163.0,1330.2 L1162.0,1330.2 L1161.0,1330.2 L1160.3,1330.2 L1160.0,1330.2 L1159.0,1330.2 L1158.4,1330.2 L1158.0,1330.2 L1157.0,1330.2 L1156.0,1330.2 L1155.0,1330.2 L1154.7,1330.2 L1154.0,1330.2 L1153.0,1330.2 L1152.0,1330.2 L1151.0,1330.2 L1150.1,1330.2 L1150.0,1330.2 L1149.0,1330.2 L1148.0,1330.2 L1147.0,1330.2 L1146.0,1330.2 L1145.5,1330.2 L1145.0,1330.2 L1144.0,1330.2 L1143.0,1330.2 L1142.7,1330.2 L1142.0,1330.2 L1141.0,1330.2 L1140.0,1330.2 L1139.0,1330.2 L1138.0,1330.2 L1137.0,1330.2 L1136.0,1330.2 L1135.0,1330.2 L1134.0,1330.2 L1133.0,1330.2 L1132.0,1330.2 L1131.7,1330.2 L1131.0,1330.2 L1130.0,1330.2 L1129.0,1330.2 L1128.0,1330.2 L1127.0,1330.2 L1126.0,1330.2 L1125.0,1330.2 L1124.0,1330.2 L1123.0,1330.2 L1122.4,1330.2 L1122.0,1330.2 L1121.5,1330.2 L1121.0,1330.2 L1120.0,1330.2 L1119.7,1330.2 L1119.0,1330.2 L1118.0,1330.2 L1117.0,1330.2 L1116.0,1330.2 L1115.0,1330.2 L1115.0,1330.2 L1114.0,1330.2 L1113.2,1330.2 L1113.0,1330.2 L1112.0,1330.2 L1111.0,1330.2 L1110.0,1330.2 L1109.0,1330.2 L1108.0,1330.2 L1107.7,1330.2 L1107.0,1330.2 L1106.0,1330.2 L1105.8,1330.2 L1105.0,1330.2 L1104.0,1330.2 L1103.0,1330.2 L1102.0,1330.2 L1101.0,1330.2 L1100.0,1330.2 L1099.0,1330.2 L1098.0,1330.2 L1097.0,1330.2 L1096.6,1330.2 L1096.0,1330.2 L1095.0,1330.2 L1094.0,1330.2 L1093.0,1330.2 L1092.0,1330.2 L1091.0,1330.2 L1091.0,1330.2 L1090.0,1330.2 L1089.2,1330.2 L1089.0,1330.2 L1088.0,1330.2 L1087.0,1330.2 L1086.0,1330.2 L1085.0,1330.2 L1084.0,1330.2 L1083.6,1330.2 L1083.0,1330.2 L1082.0,1330.2 L1081.0,1330.2 L1080.0,1330.2 L1079.9,1330.2 L1079.0,1330.2 L1078.1,1330.2 L1078.0,1330.2 L1077.0,1330.2 L1076.0,1330.2 L1075.0,1330.2 L1074.0,1330.2 L1073.0,1330.2 L1072.0,1330.2 L1071.0,1330.2 L1070.0,1330.2 L1069.8,1330.2 L1069.0,1330.2 L1068.9,1330.2 L1068.0,1330.2 L1067.0,1330.2 L1066.0,1330.2 L1065.0,1330.2 L1064.0,1330.2 L1063.0,1330.2 L1062.0,1330.2 L1061.0,1330.2 L1060.6,1330.2 L1060.0,1330.2 L1059.0,1330.2 L1058.0,1330.2 L1057.8,1330.2 L1057.0,1330.2 L1056.0,1330.2 L1055.0,1330.2 L1054.1,1330.2 L1054.0,1330.2 L1053.2,1330.2 L1053.0,1330.2 L1052.0,1330.2 L1051.0,1330.2 L1050.0,1330.2 L1049.0,1330.2 L1048.0,1330.2 L1047.0,1330.2 L1046.0,1330.2 L1045.0,1330.2 L1044.0,1330.2 L1043.9,1330.2 L1043.4,1330.2 L1043.0,1330.2 L1042.0,1330.2 L1041.0,1330.2 L1040.0,1330.2 L1039.3,1330.2 L1039.0,1330.2 L1039.0,1330.2 L1038.0,1330.2 L1037.0,1330.2 L1036.0,1330.2 L1035.0,1330.2 L1034.2,1330.2 L1034.0,1330.2 L1033.8,1330.2 L1033.0,1330.2 L1032.0,1330.2 L1031.9,1330.2 L1031.0,1330.2 L1030.0,1330.2 L1029.0,1330.2 L1028.0,1330.2 L1027.0,1330.2 L1026.4,1330.2 L1026.0,1330.2 L1025.0,1330.2 L1024.0,1330.2 L1023.0,1330.2 L1022.0,1330.2 L1021.0,1330.2 L1020.9,1330.2 L1020.0,1330.2 L1019.0,1330.2 L1018.0,1330.2 L1017.0,1330.2 L1016.8,1330.2 L1016.2,1330.2 L1016.0,1330.2 L1015.0,1330.2 L1014.0,1330.2 L1013.8,1330.2 L1013.5,1313.0 L1013.0,1313.0 L1012.0,1313.0 L1011.0,1313.0 L1010.0,1313.0 L1009.0,1313.0 L1008.0,1313.0 L1007.0,1313.0 L1006.4,1313.0 L1006.1,1330.2 L1006.0,1330.2 L1005.0,1330.2 L1004.0,1330.2 L1003.0,1330.2 L1002.4,1330.2 L1002.0,1330.2 L1001.5,1330.2 L1001.0,1330.2 L1000.0,1330.2 L999.7,1330.2 L999.0,1330.2 L998.0,1330.2 L997.0,1330.2 L996.0,1330.2 L995.0,1330.2 L994.1,1330.2 L994.0,1330.2 L993.0,1330.2 L992.0,1330.2 L991.0,1330.2 L990.0,1330.2 L989.5,1330.2 L989.0,1330.2 L988.0,1330.2 L987.0,1330.2 L986.0,1330.2 L985.8,1330.2 L985.0,1330.2 L984.0,1330.2 L983.1,1330.2 L983.0,1330.2 L982.0,1330.2 L981.0,1330.2 L980.0,1330.2 L979.0,1330.2 L978.0,1330.2 L977.0,1330.2 L976.0,1330.2 L975.7,1330.2 L975.0,1330.2 L974.0,1330.2 L973.8,1330.2 L973.0,1330.2 L972.0,1330.2 L972.0,1330.2 L971.0,1330.2 L970.0,1330.2 L969.0,1330.2 L968.0,1330.2 L967.4,1330.2 L967.0,1330.2 L966.0,1330.2 L965.0,1330.2 L964.0,1330.2 L963.0,1330.2 L962.7,1330.2 L962.0,1330.2 L961.0,1330.2 L960.9,1330.2 L960.0,1330.2 L959.0,1330.2 L958.0,1330.2 L957.0,1330.2 L956.3,1330.2 L956.0,1330.2 L955.4,1330.2 L955.0,1330.2 L954.0,1330.2 L953.0,1330.2 L952.0,1330.2 L951.0,1330.2 L950.0,1330.2 L949.0,1330.2 L948.9,1330.2 L948.0,1330.2 L948.0,1330.2 L947.0,1330.2 L946.0,1330.2 L945.0,1330.2 L944.3,1330.2 L944.0,1330.2 L943.0,1330.2 L942.0,1330.2 L941.0,1330.2 L940.6,1330.2 L940.0,1330.2 L939.0,1330.2 L938.0,1330.2 L937.0,1330.2 L936.0,1330.2 L935.0,1330.2 L934.1,1330.2 L934.0,1330.2 L933.0,1330.2 L932.3,1330.2 L932.0,1330.2 L931.0,1330.2 L930.0,1330.2 L929.0,1330.2 L928.0,1330.2 L927.7,1330.2 L927.0,1330.2 L926.7,1330.2 L926.0,1330.2 L925.0,1330.2 L924.0,1330.2 L923.0,1330.2 L922.0,1330.2 L921.2,1330.2 L921.0,1330.2 L920.3,1330.2 L920.0,1330.2 L919.0,1330.2 L918.0,1330.2 L917.0,1330.2 L916.0,1330.2 L915.0,1330.2 L914.0,1330.2 L913.0,1330.2 L912.0,1330.2 L911.0,1330.2 L910.0,1330.2 L909.2,1330.2 L909.0,1330.2 L908.3,1330.2 L908.0,1330.2 L907.0,1330.2 L906.0,1330.2 L905.0,1330.2 L904.0,1330.2 L903.6,1330.2 L903.0,1330.2 L902.0,1330.2 L901.8,1330.2 L901.0,1330.2 L900.0,1330.2 L899.0,1330.2 L898.0,1330.2 L897.2,1330.2 L897.0,1330.2 L896.3,1330.2 L896.0,1330.2 L895.0,1330.2 L894.0,1330.2 L893.0,1330.2 L892.0,1330.2 L891.1,1330.2 L891.0,1330.2 L890.7,1330.2 L890.0,1330.2 L889.0,1330.2 L888.0,1330.2 L887.0,1330.2 L887.0,1330.2 L886.0,1330.2 L885.2,1330.2 L885.0,1330.2 L884.0,1330.2 L883.0,1330.2 L882.0,1330.2 L881.0,1330.2 L880.0,1330.2 L879.0,1330.2 L878.0,1330.2 L877.8,1330.2 L877.0,1330.2 L876.0,1330.2 L875.0,1330.2 L874.0,1330.2 L873.0,1330.2 L872.0,1330.2 L871.3,1330.2 L871.0,1330.2 L870.4,1330.2 L870.0,1330.2 L869.0,1330.2 L868.0,1330.2 L867.0,1330.2 L866.0,1330.2 L865.0,1330.2 L864.9,1330.2 L864.0,1330.2 L863.0,1330.2 L862.0,1330.2 L861.2,1330.2 L861.0,1330.2 L860.2,1330.2 L860.0,1330.2 L859.0,1330.2 L858.0,1330.2 L857.0,1330.2 L856.0,1330.2 L855.3,1330.2 L855.0,1330.2 L854.0,1330.2 L853.8,1330.2 L853.0,1330.2 L852.0,1330.2 L851.0,1330.2 L850.0,1330.2 L849.0,1330.2 L848.0,1330.2 L847.3,1330.2 L847.0,1330.2 L846.0,1330.2 L845.0,1330.2 L844.0,1330.2 L843.0,1330.2 L842.7,1330.2 L842.0,1330.2 L841.0,1330.2 L840.0,1330.2 L839.0,1330.2 L838.0,1330.2 L837.0,1330.2 L836.0,1330.2 L835.3,1330.2 L835.0,1330.2 L834.0,1330.2 L833.0,1330.2 L832.0,1330.7 L831.6,1331.5 L831.0,1331.5 L830.0,1331.5 L829.0,1331.5 L828.0,1331.5 L827.0,1331.5 L826.0,1331.5 L825.0,1331.5 L824.0,1331.5 L823.0,1331.5 L822.0,1331.5 L821.0,1331.5 L820.0,1331.5 L819.0,1331.5 L818.0,1331.5 L817.0,1331.5 L816.0,1331.5 L815.0,1331.5 Z" fill="#0a74ba" stroke="#0a74ba" stroke-width="1.2" stroke-linejoin="miter"/>
<path d="M1002.4,1320.0 L1002.4,1170.0 L1003.9,1053.0 L1006.8,1053.0 L1008.6,1115.0 L1012.3,1152.0 L1014.5,1266.0 L1016.0,1320.0 Z" fill="#0a74ba" stroke="#0a74ba" stroke-width="1"/>
</g>
<text x="962.0" y="1449.1" class="xl">cm<tspan class="sup" dx="-6" dy="-31">-1</tspan></text>
<text transform="translate(71.8,1189.3) rotate(-90)" text-anchor="middle" class="yl" textLength="322" lengthAdjust="spacingAndGlyphs">Relative Match</text>
<rect x="275.6" y="1490.7" width="1461.9" height="279.39999999999986" fill="none" stroke="#404040" stroke-width="3"/>
<text transform="translate(257.1,1787.1) scale(0.96,1)" text-anchor="end" class="t">0</text>
<path d="M275.6,1727.4h15M1737.5,1727.4h-15" stroke="#404040" stroke-width="3"/>
<text transform="translate(257.1,1744.4) scale(0.96,1)" text-anchor="end" class="t">500000</text>
<path d="M275.6,1684.7h15M1737.5,1684.7h-15" stroke="#404040" stroke-width="3"/>
<text transform="translate(257.1,1701.7) scale(0.94,1)" text-anchor="end" class="t">1e+006</text>
<path d="M275.6,1642.0h15M1737.5,1642.0h-15" stroke="#404040" stroke-width="3"/>
<text transform="translate(257.1,1659.0) scale(0.94,1)" text-anchor="end" class="t">1.5e+006</text>
<path d="M275.6,1599.3h15M1737.5,1599.3h-15" stroke="#404040" stroke-width="3"/>
<text transform="translate(257.1,1616.3) scale(0.94,1)" text-anchor="end" class="t">2e+006</text>
<path d="M275.6,1556.6h15M1737.5,1556.6h-15" stroke="#404040" stroke-width="3"/>
<text transform="translate(257.1,1573.6) scale(0.94,1)" text-anchor="end" class="t">2.5e+006</text>
<path d="M275.6,1513.9h15M1737.5,1513.9h-15" stroke="#404040" stroke-width="3"/>
<text transform="translate(257.1,1530.9) scale(0.94,1)" text-anchor="end" class="t">3e+006</text>
<text transform="translate(275.6,1825.2) scale(0.96,1)" text-anchor="middle" class="t">3960</text>
<path d="M641.1,1770.1v-15M641.1,1490.7v15" stroke="#404040" stroke-width="3"/>
<text transform="translate(641.1,1825.2) scale(0.96,1)" text-anchor="middle" class="t">3980</text>
<path d="M1006.6,1770.1v-15M1006.6,1490.7v15" stroke="#404040" stroke-width="3"/>
<text transform="translate(1006.6,1825.2) scale(0.96,1)" text-anchor="middle" class="t">4000</text>
<path d="M1372.0,1770.1v-15M1372.0,1490.7v15" stroke="#404040" stroke-width="3"/>
<text transform="translate(1372.0,1825.2) scale(0.96,1)" text-anchor="middle" class="t">4020</text>
<text transform="translate(1737.5,1825.2) scale(0.96,1)" text-anchor="middle" class="t">4040</text>
<clipPath id="c1490"><rect x="272.6" y="1488.7" width="1467.9" height="283.39999999999986"/></clipPath>
<g clip-path="url(#c1490)">
<path d="M275.6,1758.8 C286.1,1759.0 319.9,1759.5 338.3,1760.2 C356.7,1760.9 366.8,1763.1 386.2,1762.9 C405.6,1762.7 434.0,1761.0 454.5,1758.8 C475.0,1756.6 492.1,1750.1 509.2,1749.9 C526.3,1749.7 538.8,1755.2 557.0,1757.4 C575.2,1759.6 598.0,1762.9 618.5,1762.9 C639.0,1762.9 661.8,1757.6 680.0,1757.4 C698.2,1757.2 710.7,1762.8 727.8,1761.5 C744.9,1760.2 765.4,1752.6 782.5,1749.9 C799.6,1747.2 814.9,1749.6 830.3,1745.1 C845.7,1740.5 862.2,1723.5 874.7,1722.6 C887.2,1721.7 896.4,1734.6 905.5,1739.7 C914.6,1744.8 922.0,1753.3 929.4,1753.3 C936.8,1753.3 943.6,1754.5 949.9,1739.7 C956.2,1724.9 961.3,1694.1 967.0,1664.5 C972.7,1634.9 978.9,1589.9 984.0,1562.0 C989.1,1534.1 994.4,1509.0 997.7,1497.1 C1001.0,1485.2 1000.0,1486.3 1003.9,1490.4 C1007.8,1494.5 1015.4,1500.2 1021.2,1521.6 C1027.0,1542.9 1032.7,1587.3 1038.5,1618.5 C1044.3,1649.7 1050.0,1688.3 1055.8,1708.5 C1061.6,1728.7 1065.6,1740.9 1073.1,1739.7 C1080.6,1738.5 1091.6,1713.9 1100.8,1701.6 C1110.0,1689.2 1120.4,1667.9 1128.5,1665.6 C1136.6,1663.3 1142.4,1677.2 1149.3,1687.8 C1156.2,1698.4 1163.1,1719.5 1170.0,1729.3 C1176.9,1739.1 1181.5,1746.0 1190.8,1746.6 C1200.0,1747.2 1215.1,1735.9 1225.5,1732.8 C1235.9,1729.7 1240.5,1728.2 1253.2,1727.9 C1265.9,1727.6 1285.4,1729.8 1301.6,1730.7 C1317.8,1731.6 1336.2,1734.9 1350.1,1733.5 C1363.9,1732.1 1374.3,1728.3 1384.7,1722.4 C1395.1,1716.5 1402.0,1704.4 1412.4,1698.1 C1422.8,1691.8 1436.7,1682.6 1447.1,1684.3 C1457.5,1686.0 1466.1,1702.5 1474.8,1708.5 C1483.5,1714.5 1490.9,1721.5 1499.0,1720.3 C1507.1,1719.1 1514.6,1717.4 1523.3,1701.6 C1532.0,1685.8 1541.7,1649.4 1550.9,1625.4 C1560.1,1601.4 1570.5,1564.5 1578.6,1557.6 C1586.7,1550.7 1593.1,1568.0 1599.4,1583.9 C1605.8,1599.8 1610.4,1632.9 1616.7,1653.1 C1623.0,1673.3 1628.8,1693.7 1637.5,1705.0 C1646.2,1716.3 1657.7,1716.4 1668.7,1721.0 C1679.7,1725.6 1691.8,1730.3 1703.3,1732.8 C1714.8,1735.3 1731.8,1735.6 1737.5,1736.2" fill="none" stroke="#0a74ba" stroke-width="5.0" stroke-linejoin="round" stroke-linecap="round"/>
</g>
<text x="962.0" y="1892.8" class="xl">cm<tspan class="sup" dx="-6" dy="-31">-1</tspan></text>
<text transform="translate(71.8,1628.2) rotate(-90)" text-anchor="middle" class="yl" textLength="322" lengthAdjust="spacingAndGlyphs">Relative Match</text>
<text transform="translate(1934.8,1467) scale(0.92,1)" class="lab">(B)</text>
<rect x="20.5" y="2004.5" width="1824.8" height="914.0" fill="none" stroke="#0d94d6" stroke-width="4.6"/>
<rect x="269.2" y="2042.5" width="1468.3" height="278.5" fill="none" stroke="#404040" stroke-width="3"/>
<text transform="translate(250.7,2338.0) scale(0.96,1)" text-anchor="end" class="t">0</text>
<path d="M269.2,2277.1h15M1737.5,2277.1h-15" stroke="#404040" stroke-width="3"/>
<text transform="translate(250.7,2294.1) scale(0.94,1)" text-anchor="end" class="t">1e+006</text>
<path d="M269.2,2233.2h15M1737.5,2233.2h-15" stroke="#404040" stroke-width="3"/>
<text transform="translate(250.7,2250.2) scale(0.94,1)" text-anchor="end" class="t">2e+006</text>
<path d="M269.2,2189.4h15M1737.5,2189.4h-15" stroke="#404040" stroke-width="3"/>
<text transform="translate(250.7,2206.4) scale(0.94,1)" text-anchor="end" class="t">3e+006</text>
<path d="M269.2,2145.5h15M1737.5,2145.5h-15" stroke="#404040" stroke-width="3"/>
<text transform="translate(250.7,2162.5) scale(0.94,1)" text-anchor="end" class="t">4e+006</text>
<path d="M269.2,2101.6h15M1737.5,2101.6h-15" stroke="#404040" stroke-width="3"/>
<text transform="translate(250.7,2118.6) scale(0.94,1)" text-anchor="end" class="t">5e+006</text>
<path d="M269.2,2057.7h15M1737.5,2057.7h-15" stroke="#404040" stroke-width="3"/>
<text transform="translate(250.7,2074.7) scale(0.94,1)" text-anchor="end" class="t">6e+006</text>
<text transform="translate(268.6,2377.9) scale(0.96,1)" text-anchor="middle" class="t">0</text>
<path d="M452.2,2321.0v-15M452.2,2042.5v15" stroke="#404040" stroke-width="3"/>
<text transform="translate(452.2,2377.9) scale(0.96,1)" text-anchor="middle" class="t">1000</text>
<path d="M635.8,2321.0v-15M635.8,2042.5v15" stroke="#404040" stroke-width="3"/>
<text transform="translate(635.8,2377.9) scale(0.96,1)" text-anchor="middle" class="t">2000</text>
<path d="M819.4,2321.0v-15M819.4,2042.5v15" stroke="#404040" stroke-width="3"/>
<text transform="translate(819.4,2377.9) scale(0.96,1)" text-anchor="middle" class="t">3000</text>
<path d="M1003.1,2321.0v-15M1003.1,2042.5v15" stroke="#404040" stroke-width="3"/>
<text transform="translate(1003.1,2377.9) scale(0.96,1)" text-anchor="middle" class="t">4000</text>
<path d="M1186.7,2321.0v-15M1186.7,2042.5v15" stroke="#404040" stroke-width="3"/>
<text transform="translate(1186.7,2377.9) scale(0.96,1)" text-anchor="middle" class="t">5000</text>
<path d="M1370.3,2321.0v-15M1370.3,2042.5v15" stroke="#404040" stroke-width="3"/>
<text transform="translate(1370.3,2377.9) scale(0.96,1)" text-anchor="middle" class="t">6000</text>
<path d="M1553.9,2321.0v-15M1553.9,2042.5v15" stroke="#404040" stroke-width="3"/>
<text transform="translate(1553.9,2377.9) scale(0.96,1)" text-anchor="middle" class="t">7000</text>
<text transform="translate(1737.5,2377.9) scale(0.96,1)" text-anchor="middle" class="t">8000</text>
<clipPath id="c2042"><rect x="266.2" y="2040.5" width="1474.3" height="282.5"/></clipPath>
<g clip-path="url(#c2042)">
<line x1="269.2" y1="2319.4" x2="1737.5" y2="2319.4" stroke="#0a74ba" stroke-width="4.6"/>
<path d="M815.0,2320.7 L816.0,2320.7 L817.0,2320.7 L818.0,2320.7 L819.0,2320.7 L820.0,2320.7 L821.0,2320.7 L822.0,2320.7 L823.0,2320.7 L824.0,2320.7 L825.0,2320.7 L826.0,2320.7 L826.1,2320.7 L827.0,2317.4 L828.0,2313.8 L829.0,2310.2 L830.0,2306.6 L830.7,2304.1 L831.0,2304.0 L832.0,2303.6 L833.0,2303.2 L834.0,2302.8 L835.0,2302.4 L835.3,2302.2 L836.0,2301.9 L837.0,2301.4 L838.0,2300.9 L839.0,2300.4 L840.0,2299.9 L841.0,2299.4 L842.0,2298.9 L842.7,2298.5 L843.0,2298.0 L844.0,2296.3 L845.0,2294.5 L846.0,2292.8 L846.4,2292.1 L847.0,2292.5 L848.0,2293.3 L849.0,2294.0 L850.0,2294.8 L850.1,2294.8 L851.0,2295.1 L852.0,2295.3 L853.0,2295.6 L854.0,2295.8 L855.0,2296.1 L856.0,2296.3 L857.0,2296.6 L857.5,2296.7 L858.0,2297.0 L859.0,2297.7 L860.0,2298.4 L861.0,2299.0 L862.0,2299.7 L863.0,2300.4 L863.0,2300.4 L864.0,2301.0 L865.0,2301.7 L866.0,2302.4 L867.0,2303.0 L868.0,2303.7 L868.6,2304.1 L869.0,2303.2 L870.0,2301.2 L871.0,2299.2 L872.0,2297.2 L872.2,2296.7 L873.0,2296.2 L874.0,2295.5 L875.0,2294.9 L876.0,2294.2 L877.0,2293.5 L877.8,2293.0 L878.0,2292.9 L879.0,2292.4 L880.0,2291.9 L881.0,2291.4 L881.5,2291.2 L882.0,2185.5 L882.4,2102.8 L883.0,2102.8 L883.3,2102.8 L884.0,2102.8 L885.0,2102.8 L886.0,2102.8 L887.0,2102.8 L887.0,2102.8 L887.4,2152.7 L888.0,2152.8 L889.0,2153.1 L890.0,2153.3 L891.0,2153.6 L892.0,2153.9 L892.6,2154.0 L893.0,2154.1 L894.0,2154.4 L894.4,2154.5 L895.0,2229.0 L895.3,2270.8 L896.0,2273.1 L897.0,2276.4 L898.0,2279.7 L898.1,2280.1 L899.0,2286.4 L900.0,2293.4 L901.0,2300.4 L901.8,2305.9 L902.0,2305.3 L903.0,2302.3 L904.0,2299.3 L905.0,2296.3 L906.0,2293.3 L907.0,2290.3 L907.3,2289.3 L908.0,2265.4 L909.0,2229.4 L910.0,2193.4 L911.0,2157.4 L912.0,2123.1 L912.0,2123.1 L913.0,2123.1 L913.8,2123.1 L914.0,2123.1 L915.0,2123.1 L915.6,2123.1 L916.0,2123.1 L917.0,2123.1 L918.0,2123.1 L919.0,2123.1 L920.0,2123.1 L920.3,2123.1 L920.6,2221.0 L921.0,2232.0 L922.0,2262.0 L922.1,2265.3 L923.0,2269.3 L924.0,2273.6 L924.0,2273.8 L925.0,2278.3 L925.8,2281.9 L926.0,2282.1 L927.0,2283.1 L928.0,2284.1 L929.0,2285.1 L930.0,2286.1 L931.0,2287.1 L931.3,2287.5 L932.0,2289.1 L933.0,2291.6 L934.0,2294.1 L935.0,2296.6 L935.0,2296.7 L936.0,2295.1 L937.0,2293.4 L938.0,2291.8 L939.0,2290.1 L940.0,2288.4 L940.6,2287.5 L941.0,2287.1 L942.0,2286.4 L943.0,2285.6 L944.0,2284.9 L945.0,2284.1 L946.0,2283.4 L947.0,2282.6 L948.0,2281.9 L948.0,2279.3 L948.9,2215.4 L949.0,2215.3 L950.0,2214.5 L951.0,2213.6 L952.0,2212.8 L953.0,2211.9 L953.5,2211.5 L954.0,2211.1 L955.0,2210.2 L955.4,2209.9 L956.0,2209.5 L956.3,2209.3 L957.0,2208.8 L958.0,2208.1 L958.1,2208.1 L959.0,2208.6 L960.0,2209.3 L960.9,2209.9 L961.0,2214.5 L961.8,2248.7 L962.0,2248.8 L962.7,2249.3 L963.0,2249.5 L964.0,2250.1 L964.6,2250.5 L965.0,2257.2 L966.0,2273.2 L966.4,2280.1 L967.0,2280.4 L968.0,2280.9 L969.0,2281.4 L970.0,2281.9 L970.1,2281.9 L971.0,2286.3 L972.0,2291.3 L973.0,2296.3 L973.8,2300.4 L974.0,2300.3 L975.0,2299.8 L976.0,2299.3 L977.0,2298.8 L977.5,2298.5 L978.0,2296.6 L979.0,2292.6 L980.0,2288.6 L981.0,2284.6 L982.0,2280.6 L983.0,2276.6 L983.1,2276.4 L984.0,2275.1 L985.0,2273.8 L986.0,2272.4 L987.0,2271.1 L988.0,2269.8 L988.6,2269.0 L989.0,2211.9 L989.5,2139.7 L990.0,2131.3 L990.4,2123.7 L991.0,2114.0 L992.0,2096.7 L992.3,2091.7 L993.0,2091.7 L993.2,2091.7 L994.0,2091.7 L995.0,2091.7 L995.1,2091.7 L995.6,2062.9 L996.0,2043.7 L996.0,2043.7 L997.0,2043.7 L998.0,2043.7 L999.0,2043.7 L999.7,2043.7 L1000.0,2043.7 L1000.5,2043.7 L1001.0,2135.7 L1001.5,2228.4 L1002.0,2228.9 L1002.4,2229.3 L1003.0,2229.9 L1003.3,2230.2 L1004.0,2251.6 L1005.0,2282.6 L1005.2,2287.5 L1006.0,2288.7 L1007.0,2290.1 L1008.0,2291.5 L1009.0,2293.0 L1010.0,2294.4 L1011.0,2295.8 L1011.6,2296.7 L1012.0,2298.6 L1013.0,2303.6 L1013.5,2305.9 L1014.0,2298.5 L1015.0,2284.5 L1015.3,2280.1 L1016.0,2279.9 L1017.0,2279.7 L1018.0,2279.4 L1019.0,2279.2 L1020.0,2278.9 L1021.0,2278.7 L1022.0,2278.4 L1022.7,2278.2 L1023.0,2270.4 L1023.6,2254.2 L1024.0,2251.7 L1025.0,2245.0 L1026.0,2238.4 L1026.4,2235.8 L1027.0,2235.8 L1028.0,2235.8 L1029.0,2235.8 L1030.0,2235.8 L1030.1,2235.8 L1031.0,2235.8 L1031.0,2235.8 L1031.9,2202.5 L1032.0,2202.5 L1033.0,2202.5 L1034.0,2202.5 L1035.0,2202.5 L1035.6,2202.5 L1036.0,2207.3 L1037.0,2220.3 L1037.5,2226.5 L1038.0,2228.9 L1039.0,2233.4 L1039.3,2234.8 L1040.0,2237.9 L1041.0,2242.4 L1041.2,2243.1 L1042.0,2258.1 L1043.0,2276.1 L1043.0,2276.4 L1044.0,2278.1 L1045.0,2279.9 L1046.0,2281.6 L1047.0,2283.4 L1048.0,2285.1 L1049.0,2286.9 L1050.0,2288.6 L1050.4,2289.3 L1051.0,2289.0 L1052.0,2288.5 L1053.0,2288.0 L1054.0,2287.5 L1055.0,2287.0 L1056.0,2286.5 L1057.0,2286.0 L1057.8,2285.6 L1058.0,2284.1 L1059.0,2276.7 L1059.6,2272.1 L1060.0,2269.4 L1060.6,2265.3 L1061.0,2265.3 L1061.5,2265.3 L1062.0,2265.3 L1063.0,2265.3 L1063.3,2265.3 L1064.0,2268.7 L1065.0,2273.7 L1065.2,2274.5 L1066.0,2275.2 L1067.0,2275.9 L1067.0,2275.9 L1068.0,2276.7 L1069.0,2277.4 L1070.0,2278.2 L1071.0,2278.9 L1072.0,2279.7 L1072.6,2280.1 L1073.0,2280.3 L1074.0,2280.8 L1075.0,2281.3 L1076.0,2281.8 L1076.3,2281.9 L1077.0,2287.4 L1078.0,2294.7 L1078.1,2295.5 L1079.0,2302.0 L1079.0,2302.2 L1080.0,2302.5 L1081.0,2302.7 L1082.0,2302.9 L1083.0,2303.1 L1084.0,2303.3 L1085.0,2303.6 L1086.0,2303.8 L1087.0,2304.0 L1087.3,2304.1 L1088.0,2302.4 L1089.0,2299.9 L1090.0,2297.4 L1091.0,2294.9 L1091.0,2294.8 L1092.0,2291.0 L1093.0,2287.0 L1094.0,2283.0 L1095.0,2279.0 L1095.6,2276.4 L1096.0,2276.2 L1096.6,2276.0 L1097.0,2275.8 L1098.0,2275.4 L1098.4,2275.3 L1099.0,2275.0 L1100.0,2274.6 L1100.3,2274.5 L1101.0,2242.1 L1101.2,2233.9 L1102.0,2233.9 L1103.0,2233.9 L1104.0,2233.9 L1105.0,2233.9 L1105.8,2233.9 L1106.0,2235.9 L1107.0,2245.9 L1107.7,2252.4 L1108.0,2258.7 L1109.0,2276.7 L1110.0,2294.7 L1110.4,2302.2 L1111.0,2302.5 L1112.0,2302.9 L1113.0,2303.3 L1114.0,2303.7 L1115.0,2304.1 L1115.0,2304.1 L1116.0,2304.7 L1117.0,2305.4 L1118.0,2306.1 L1119.0,2306.7 L1120.0,2307.4 L1120.6,2307.8 L1121.0,2307.8 L1122.0,2307.8 L1123.0,2307.8 L1124.0,2307.8 L1125.0,2307.8 L1126.0,2307.8 L1127.0,2307.8 L1128.0,2307.8 L1129.0,2307.8 L1130.0,2307.8 L1131.0,2307.8 L1131.7,2307.8 L1132.0,2306.8 L1133.0,2304.0 L1134.0,2301.2 L1135.0,2298.4 L1136.0,2295.6 L1136.3,2294.8 L1137.0,2294.0 L1138.0,2292.8 L1139.0,2291.6 L1140.0,2290.4 L1140.9,2289.3 L1141.0,2289.3 L1142.0,2289.3 L1143.0,2289.3 L1143.7,2289.3 L1144.0,2290.7 L1145.0,2294.7 L1146.0,2298.7 L1146.4,2300.4 L1147.0,2301.8 L1148.0,2304.3 L1149.0,2306.8 L1150.0,2309.3 L1150.1,2309.6 L1151.0,2309.6 L1152.0,2309.6 L1153.0,2309.6 L1154.0,2309.6 L1155.0,2309.6 L1156.0,2309.6 L1157.0,2309.6 L1157.5,2309.6 L1158.0,2310.1 L1159.0,2311.1 L1160.0,2312.1 L1161.0,2313.1 L1161.2,2313.3 L1162.0,2313.8 L1163.0,2314.5 L1164.0,2315.2 L1165.0,2315.8 L1166.0,2316.5 L1166.7,2317.0 L1167.0,2317.0 L1168.0,2317.2 L1169.0,2317.3 L1170.0,2317.5 L1171.0,2317.6 L1172.0,2317.8 L1173.0,2317.9 L1174.0,2318.0 L1175.0,2318.2 L1176.0,2318.3 L1177.0,2318.5 L1178.0,2318.6 L1179.0,2318.8 L1179.7,2318.9 L1180.0,2318.9 L1181.0,2319.0 L1182.0,2319.1 L1183.0,2319.3 L1184.0,2319.4 L1185.0,2319.5 L1186.0,2319.6 L1187.0,2319.7 L1188.0,2319.9 L1189.0,2320.0 L1190.0,2320.1 L1191.0,2320.2 L1192.0,2320.3 L1193.0,2320.5 L1194.0,2320.6 L1195.0,2320.7 L1195.0,2321.7 L1194.0,2321.6 L1193.0,2321.5 L1192.0,2321.3 L1191.0,2321.2 L1190.0,2321.1 L1189.0,2321.0 L1188.0,2320.9 L1187.0,2320.7 L1186.0,2320.6 L1185.0,2320.5 L1184.0,2320.4 L1183.0,2320.3 L1182.0,2320.1 L1181.0,2320.0 L1180.0,2320.0 L1179.7,2320.0 L1179.0,2320.0 L1178.0,2320.0 L1177.0,2320.0 L1176.0,2320.0 L1175.0,2320.0 L1174.0,2320.0 L1173.0,2320.0 L1172.0,2320.0 L1171.0,2320.0 L1170.0,2320.0 L1169.0,2320.0 L1168.0,2320.0 L1167.0,2320.0 L1166.7,2320.0 L1166.0,2320.0 L1165.0,2320.0 L1164.0,2320.0 L1163.0,2320.0 L1162.0,2320.0 L1161.2,2320.0 L1161.0,2320.0 L1160.0,2320.0 L1159.0,2319.9 L1158.0,2319.9 L1157.5,2319.9 L1157.0,2319.9 L1156.0,2319.9 L1155.0,2319.9 L1154.0,2319.8 L1153.0,2319.8 L1152.0,2319.8 L1151.0,2319.8 L1150.1,2319.8 L1150.0,2319.8 L1149.0,2319.7 L1148.0,2319.7 L1147.0,2319.7 L1146.4,2319.7 L1146.0,2319.7 L1145.0,2319.6 L1144.0,2319.6 L1143.7,2319.6 L1143.0,2319.6 L1142.0,2319.6 L1141.0,2319.6 L1140.9,2319.6 L1140.0,2319.5 L1139.0,2319.5 L1138.0,2319.5 L1137.0,2319.5 L1136.3,2319.5 L1136.0,2319.5 L1135.0,2319.4 L1134.0,2319.4 L1133.0,2319.4 L1132.0,2319.4 L1131.7,2319.4 L1131.0,2319.3 L1130.0,2319.3 L1129.0,2319.3 L1128.0,2319.3 L1127.0,2319.3 L1126.0,2319.2 L1125.0,2319.2 L1124.0,2319.2 L1123.0,2319.2 L1122.0,2319.2 L1121.0,2319.1 L1120.6,2319.1 L1120.0,2319.1 L1119.0,2319.1 L1118.0,2319.1 L1117.0,2319.1 L1116.0,2319.0 L1115.0,2319.0 L1115.0,2319.0 L1114.0,2319.0 L1113.0,2319.0 L1112.0,2318.9 L1111.0,2318.9 L1110.4,2318.9 L1110.0,2318.9 L1109.0,2318.9 L1108.0,2318.9 L1107.7,2318.9 L1107.0,2315.6 L1106.0,2310.6 L1105.8,2309.6 L1105.0,2309.6 L1104.0,2309.6 L1103.0,2309.6 L1102.0,2309.6 L1101.2,2309.6 L1101.0,2309.6 L1100.3,2309.6 L1100.0,2309.6 L1099.0,2309.6 L1098.4,2309.6 L1098.0,2311.3 L1097.0,2315.3 L1096.6,2317.0 L1096.0,2317.0 L1095.6,2317.0 L1095.0,2317.0 L1094.0,2317.0 L1093.0,2317.0 L1092.0,2317.0 L1091.0,2317.0 L1091.0,2317.0 L1090.0,2317.0 L1089.0,2317.0 L1088.0,2317.0 L1087.3,2317.0 L1087.0,2317.0 L1086.0,2317.0 L1085.0,2317.0 L1084.0,2317.0 L1083.0,2317.0 L1082.0,2317.0 L1081.0,2317.0 L1080.0,2317.0 L1079.0,2317.0 L1079.0,2317.0 L1078.1,2317.0 L1078.0,2317.0 L1077.0,2316.5 L1076.3,2316.1 L1076.0,2316.0 L1075.0,2315.5 L1074.0,2315.0 L1073.0,2314.5 L1072.6,2314.2 L1072.0,2314.0 L1071.0,2313.5 L1070.0,2313.0 L1069.0,2312.5 L1068.0,2312.0 L1067.0,2311.5 L1067.0,2311.4 L1066.0,2307.4 L1065.2,2304.1 L1065.0,2304.1 L1064.0,2304.1 L1063.3,2304.1 L1063.0,2304.1 L1062.0,2304.1 L1061.5,2304.1 L1061.0,2305.5 L1060.6,2306.9 L1060.0,2308.5 L1059.6,2309.6 L1059.0,2309.7 L1058.0,2309.9 L1057.8,2310.0 L1057.0,2310.1 L1056.0,2310.3 L1055.0,2310.5 L1054.0,2310.6 L1053.0,2310.8 L1052.0,2311.0 L1051.0,2311.2 L1050.4,2311.3 L1050.0,2311.4 L1049.0,2311.6 L1048.0,2311.7 L1047.0,2311.9 L1046.0,2312.1 L1045.0,2312.3 L1044.0,2312.5 L1043.0,2312.6 L1043.0,2312.6 L1042.0,2312.8 L1041.2,2313.0 L1041.0,2313.0 L1040.0,2313.2 L1039.3,2313.3 L1039.0,2310.7 L1038.0,2302.7 L1037.5,2298.5 L1037.0,2298.5 L1036.0,2298.5 L1035.6,2298.5 L1035.0,2298.5 L1034.0,2298.5 L1033.0,2298.5 L1032.0,2298.5 L1031.9,2298.5 L1031.0,2303.2 L1031.0,2303.2 L1030.1,2307.8 L1030.0,2307.8 L1029.0,2307.9 L1028.0,2308.0 L1027.0,2308.1 L1026.4,2308.2 L1026.0,2308.2 L1025.0,2308.3 L1024.0,2308.5 L1023.6,2308.5 L1023.0,2308.6 L1022.7,2308.6 L1022.0,2308.7 L1021.0,2308.8 L1020.0,2308.9 L1019.0,2309.0 L1018.0,2309.1 L1017.0,2309.2 L1016.0,2309.3 L1015.3,2309.4 L1015.0,2309.5 L1014.0,2309.6 L1013.5,2309.6 L1013.0,2310.6 L1012.0,2312.6 L1011.6,2313.3 L1011.0,2313.3 L1010.0,2313.3 L1009.0,2313.3 L1008.0,2313.3 L1007.0,2313.3 L1006.0,2313.3 L1005.2,2313.3 L1005.0,2313.3 L1004.0,2313.3 L1003.3,2313.3 L1003.0,2313.3 L1002.4,2313.3 L1002.0,2311.0 L1001.5,2307.8 L1001.0,2305.0 L1000.5,2302.2 L1000.0,2310.3 L999.7,2315.2 L999.0,2315.2 L998.0,2315.2 L997.0,2315.2 L996.0,2315.2 L996.0,2315.2 L995.6,2289.3 L995.1,2289.3 L995.0,2289.3 L994.0,2289.3 L993.2,2289.3 L993.0,2291.1 L992.3,2297.3 L992.0,2299.8 L991.0,2308.4 L990.4,2313.3 L990.0,2313.3 L989.5,2313.3 L989.0,2313.3 L988.6,2313.3 L988.0,2313.3 L987.0,2313.3 L986.0,2313.3 L985.0,2313.3 L984.0,2313.3 L983.1,2313.3 L983.0,2313.3 L982.0,2313.3 L981.0,2313.3 L980.0,2313.3 L979.0,2313.3 L978.0,2313.3 L977.5,2313.3 L977.0,2313.3 L976.0,2313.3 L975.0,2313.3 L974.0,2313.3 L973.8,2313.3 L973.0,2313.3 L972.0,2313.3 L971.0,2313.3 L970.1,2313.3 L970.0,2313.3 L969.0,2313.3 L968.0,2313.3 L967.0,2313.3 L966.4,2313.3 L966.0,2313.3 L965.0,2313.3 L964.6,2313.3 L964.0,2313.3 L963.0,2313.3 L962.7,2313.3 L962.0,2307.4 L961.8,2305.9 L961.0,2299.4 L960.9,2298.5 L960.0,2298.5 L959.0,2298.5 L958.1,2298.5 L958.0,2298.5 L957.0,2298.5 L956.3,2298.5 L956.0,2300.4 L955.4,2304.7 L955.0,2307.0 L954.0,2313.7 L953.5,2317.0 L953.0,2317.0 L952.0,2317.0 L951.0,2317.0 L950.0,2317.0 L949.0,2317.0 L948.9,2317.0 L948.0,2317.0 L948.0,2317.0 L947.0,2317.0 L946.0,2317.0 L945.0,2317.0 L944.0,2317.0 L943.0,2317.0 L942.0,2317.0 L941.0,2317.0 L940.6,2317.0 L940.0,2317.0 L939.0,2317.0 L938.0,2317.0 L937.0,2317.0 L936.0,2317.0 L935.0,2317.0 L935.0,2317.0 L934.0,2317.0 L933.0,2317.0 L932.0,2317.0 L931.3,2317.0 L931.0,2317.0 L930.0,2317.0 L929.0,2317.0 L928.0,2317.0 L927.0,2317.0 L926.0,2317.0 L925.8,2317.0 L925.0,2317.0 L924.0,2317.0 L924.0,2317.0 L923.0,2310.3 L922.1,2304.1 L922.0,2304.1 L921.0,2304.1 L920.6,2304.1 L920.3,2304.1 L920.0,2304.1 L919.0,2304.1 L918.0,2304.1 L917.0,2304.1 L916.0,2304.1 L915.6,2304.1 L915.0,2309.9 L914.0,2318.9 L913.8,2320.0 L913.0,2320.0 L912.0,2320.0 L912.0,2320.0 L911.0,2320.0 L910.0,2320.0 L909.0,2320.0 L908.0,2320.0 L907.3,2320.0 L907.0,2320.0 L906.0,2320.0 L905.0,2320.0 L904.0,2320.0 L903.0,2320.0 L902.0,2320.0 L901.8,2320.0 L901.0,2320.0 L900.0,2320.0 L899.0,2320.0 L898.1,2320.0 L898.0,2320.0 L897.0,2320.0 L896.0,2320.0 L895.3,2320.0 L895.0,2320.0 L894.4,2320.0 L894.0,2318.7 L893.0,2313.7 L892.6,2311.5 L892.0,2311.5 L891.0,2311.5 L890.0,2311.5 L889.0,2311.5 L888.0,2311.5 L887.4,2311.5 L887.0,2311.5 L887.0,2311.5 L886.0,2311.5 L885.0,2311.5 L884.0,2311.5 L883.3,2311.5 L883.0,2313.1 L882.4,2316.1 L882.0,2318.1 L881.5,2320.0 L881.0,2320.0 L880.0,2320.0 L879.0,2320.0 L878.0,2320.0 L877.8,2320.0 L877.0,2320.0 L876.0,2320.0 L875.0,2320.0 L874.0,2320.0 L873.0,2320.0 L872.2,2320.0 L872.0,2320.0 L871.0,2320.0 L870.0,2320.0 L869.0,2320.0 L868.6,2320.0 L868.0,2320.0 L867.0,2320.0 L866.0,2320.0 L865.0,2320.0 L864.0,2320.0 L863.0,2320.0 L863.0,2320.0 L862.0,2320.0 L861.0,2320.0 L860.0,2320.0 L859.0,2320.0 L858.0,2320.0 L857.5,2320.0 L857.0,2320.0 L856.0,2320.0 L855.0,2320.0 L854.0,2320.0 L853.0,2320.0 L852.0,2320.0 L851.0,2320.0 L850.1,2320.0 L850.0,2320.0 L849.0,2320.0 L848.0,2320.0 L847.0,2320.0 L846.4,2320.0 L846.0,2320.0 L845.0,2320.0 L844.0,2320.0 L843.0,2320.0 L842.7,2320.0 L842.0,2320.0 L841.0,2320.0 L840.0,2320.0 L839.0,2320.0 L838.0,2320.0 L837.0,2320.0 L836.0,2320.0 L835.3,2320.0 L835.0,2320.0 L834.0,2320.0 L833.0,2320.0 L832.0,2320.0 L831.0,2320.0 L830.7,2320.0 L830.0,2320.0 L829.0,2320.0 L828.0,2320.0 L827.0,2320.0 L826.1,2321.7 L826.0,2321.7 L825.0,2321.7 L824.0,2321.7 L823.0,2321.7 L822.0,2321.7 L821.0,2321.7 L820.0,2321.7 L819.0,2321.7 L818.0,2321.7 L817.0,2321.7 L816.0,2321.7 L815.0,2321.7 Z" fill="#0a74ba" stroke="#0a74ba" stroke-width="1.2" stroke-linejoin="miter"/>
<path d="M995.8,2200.0 L996.2,2043.0 L1000.2,2043.0 L1000.6,2200.0 Z" fill="#0a74ba" stroke="#0a74ba" stroke-width="1"/>
</g>
<text x="962.0" y="2436.3" class="xl">cm<tspan class="sup" dx="-6" dy="-31">-1</tspan></text>
<text transform="translate(99.5,2180) rotate(-90)" text-anchor="middle" class="yl" textLength="322" lengthAdjust="spacingAndGlyphs">Relative Match</text>
<rect x="269.2" y="2480.4" width="1468.3" height="278.4000000000001" fill="none" stroke="#404040" stroke-width="3"/>
<text transform="translate(250.7,2775.8) scale(0.96,1)" text-anchor="end" class="t">0</text>
<path d="M269.2,2715.1h15M1737.5,2715.1h-15" stroke="#404040" stroke-width="3"/>
<text transform="translate(250.7,2732.1) scale(0.94,1)" text-anchor="end" class="t">1e+006</text>
<path d="M269.2,2671.3h15M1737.5,2671.3h-15" stroke="#404040" stroke-width="3"/>
<text transform="translate(250.7,2688.3) scale(0.94,1)" text-anchor="end" class="t">2e+006</text>
<path d="M269.2,2627.6h15M1737.5,2627.6h-15" stroke="#404040" stroke-width="3"/>
<text transform="translate(250.7,2644.6) scale(0.94,1)" text-anchor="end" class="t">3e+006</text>
<path d="M269.2,2583.8h15M1737.5,2583.8h-15" stroke="#404040" stroke-width="3"/>
<text transform="translate(250.7,2600.8) scale(0.94,1)" text-anchor="end" class="t">4e+006</text>
<path d="M269.2,2540.1h15M1737.5,2540.1h-15" stroke="#404040" stroke-width="3"/>
<text transform="translate(250.7,2557.1) scale(0.94,1)" text-anchor="end" class="t">5e+006</text>
<path d="M269.2,2496.3h15M1737.5,2496.3h-15" stroke="#404040" stroke-width="3"/>
<text transform="translate(250.7,2513.3) scale(0.94,1)" text-anchor="end" class="t">6e+006</text>
<text transform="translate(268.2,2817.0) scale(0.96,1)" text-anchor="middle" class="t">3960</text>
<path d="M635.5,2758.8v-15M635.5,2480.4v15" stroke="#404040" stroke-width="3"/>
<text transform="translate(635.5,2817.0) scale(0.96,1)" text-anchor="middle" class="t">3980</text>
<path d="M1002.8,2758.8v-15M1002.8,2480.4v15" stroke="#404040" stroke-width="3"/>
<text transform="translate(1002.8,2817.0) scale(0.96,1)" text-anchor="middle" class="t">4000</text>
<path d="M1370.2,2758.8v-15M1370.2,2480.4v15" stroke="#404040" stroke-width="3"/>
<text transform="translate(1370.2,2817.0) scale(0.96,1)" text-anchor="middle" class="t">4020</text>
<text transform="translate(1737.5,2817.0) scale(0.96,1)" text-anchor="middle" class="t">4040</text>
<clipPath id="c2480"><rect x="266.2" y="2478.4" width="1474.3" height="282.4000000000001"/></clipPath>
<g clip-path="url(#c2480)">
<path d="M269.2,2630.6 C271.4,2629.8 277.1,2624.3 282.1,2625.8 C287.1,2627.3 291.8,2634.7 299.2,2639.5 C306.6,2644.3 317.4,2653.7 326.5,2654.5 C335.6,2655.3 345.3,2651.6 353.8,2644.2 C362.3,2636.8 370.3,2627.8 377.7,2610.1 C385.1,2592.4 391.4,2560.0 398.2,2538.3 C405.0,2516.7 412.4,2482.5 418.7,2480.2 C425.0,2477.9 430.1,2504.8 435.8,2524.7 C441.5,2544.6 447.2,2578.7 452.9,2599.8 C458.6,2620.9 462.6,2636.3 470.0,2651.1 C477.4,2665.9 488.2,2677.3 497.3,2688.7 C506.4,2700.1 515.6,2712.8 524.7,2719.4 C533.8,2726.0 539.5,2729.1 552.0,2728.3 C564.5,2727.5 587.3,2714.9 599.8,2714.6 C612.3,2714.2 616.9,2722.5 627.1,2726.2 C637.4,2729.8 649.9,2736.5 661.3,2736.5 C672.7,2736.5 681.8,2733.6 695.5,2726.2 C709.2,2718.8 729.6,2701.2 743.3,2692.1 C757.0,2683.0 766.1,2672.2 777.5,2671.6 C788.9,2671.0 800.2,2683.8 811.6,2688.7 C823.0,2693.6 833.8,2697.8 845.8,2701.0 C857.8,2704.2 870.9,2709.0 883.4,2707.8 C895.9,2706.7 910.1,2693.9 920.9,2694.1 C931.7,2694.3 939.8,2702.7 948.3,2709.2 C956.8,2715.7 963.7,2728.0 972.2,2733.1 C980.7,2738.2 989.6,2739.7 999.5,2739.9 C1009.4,2740.1 1020.5,2736.2 1031.6,2734.5 C1042.7,2732.8 1052.9,2729.1 1066.2,2729.7 C1079.5,2730.3 1096.2,2737.7 1111.2,2738.0 C1126.2,2738.3 1142.9,2732.6 1156.2,2731.8 C1169.5,2731.0 1179.2,2733.4 1190.8,2733.1 C1202.3,2732.8 1215.7,2729.1 1225.5,2729.7 C1235.3,2730.3 1240.5,2733.9 1249.7,2736.6 C1258.9,2739.2 1269.9,2744.3 1280.9,2745.6 C1291.9,2746.9 1304.0,2744.0 1315.5,2744.2 C1327.0,2744.4 1338.0,2746.1 1350.1,2747.0 C1362.2,2747.9 1374.3,2750.3 1388.2,2749.8 C1402.1,2749.3 1418.8,2745.8 1433.2,2744.2 C1447.6,2742.6 1461.0,2739.9 1474.8,2740.1 C1488.6,2740.3 1502.4,2744.8 1516.3,2745.6 C1530.2,2746.4 1541.7,2746.1 1557.9,2744.9 C1574.1,2743.8 1597.2,2740.7 1613.3,2738.7 C1629.4,2736.7 1643.3,2732.9 1654.8,2733.1 C1666.3,2733.3 1674.4,2737.8 1682.5,2740.1 C1690.6,2742.4 1694.1,2746.1 1703.3,2747.0 C1712.5,2747.9 1731.8,2745.8 1737.5,2745.6" fill="none" stroke="#0a74ba" stroke-width="5.0" stroke-linejoin="round" stroke-linecap="round"/>
</g>
<text x="962.0" y="2876.3" class="xl">cm<tspan class="sup" dx="-6" dy="-31">-1</tspan></text>
<text transform="translate(99.5,2617.7) rotate(-90)" text-anchor="middle" class="yl" textLength="322" lengthAdjust="spacingAndGlyphs">Relative Match</text>
<text transform="translate(1934.8,2468.6) scale(0.898,1)" class="lab">(C)</text>
<rect x="20.5" y="2999.0" width="1824.8" height="923.0" fill="none" stroke="#0d94d6" stroke-width="4.6"/>
<rect x="275.6" y="3045.8" width="1458.9" height="280.0" fill="none" stroke="#404040" stroke-width="3"/>
<text transform="translate(257.1,3342.8) scale(0.96,1)" text-anchor="end" class="t">0</text>
<path d="M275.6,3248.1h15M1734.5,3248.1h-15" stroke="#404040" stroke-width="3"/>
<text transform="translate(257.1,3265.1) scale(0.96,1)" text-anchor="end" class="t">500000</text>
<path d="M275.6,3170.3h15M1734.5,3170.3h-15" stroke="#404040" stroke-width="3"/>
<text transform="translate(257.1,3187.3) scale(0.94,1)" text-anchor="end" class="t">1e+006</text>
<path d="M275.6,3092.6h15M1734.5,3092.6h-15" stroke="#404040" stroke-width="3"/>
<text transform="translate(257.1,3109.6) scale(0.94,1)" text-anchor="end" class="t">1.5e+006</text>
<text transform="translate(275.6,3384.4) scale(0.96,1)" text-anchor="middle" class="t">0</text>
<path d="M458.0,3325.8v-15M458.0,3045.8v15" stroke="#404040" stroke-width="3"/>
<text transform="translate(458.0,3384.4) scale(0.96,1)" text-anchor="middle" class="t">1000</text>
<path d="M640.3,3325.8v-15M640.3,3045.8v15" stroke="#404040" stroke-width="3"/>
<text transform="translate(640.3,3384.4) scale(0.96,1)" text-anchor="middle" class="t">2000</text>
<path d="M822.7,3325.8v-15M822.7,3045.8v15" stroke="#404040" stroke-width="3"/>
<text transform="translate(822.7,3384.4) scale(0.96,1)" text-anchor="middle" class="t">3000</text>
<path d="M1005.1,3325.8v-15M1005.1,3045.8v15" stroke="#404040" stroke-width="3"/>
<text transform="translate(1005.1,3384.4) scale(0.96,1)" text-anchor="middle" class="t">4000</text>
<path d="M1187.4,3325.8v-15M1187.4,3045.8v15" stroke="#404040" stroke-width="3"/>
<text transform="translate(1187.4,3384.4) scale(0.96,1)" text-anchor="middle" class="t">5000</text>
<path d="M1369.8,3325.8v-15M1369.8,3045.8v15" stroke="#404040" stroke-width="3"/>
<text transform="translate(1369.8,3384.4) scale(0.96,1)" text-anchor="middle" class="t">6000</text>
<path d="M1552.1,3325.8v-15M1552.1,3045.8v15" stroke="#404040" stroke-width="3"/>
<text transform="translate(1552.1,3384.4) scale(0.96,1)" text-anchor="middle" class="t">7000</text>
<text transform="translate(1734.5,3384.4) scale(0.96,1)" text-anchor="middle" class="t">8000</text>
<clipPath id="c3045"><rect x="272.6" y="3043.8" width="1464.9" height="284.0"/></clipPath>
<g clip-path="url(#c3045)">
<line x1="275.6" y1="3324.2000000000003" x2="1734.5" y2="3324.2000000000003" stroke="#0a74ba" stroke-width="4.6"/>
<path d="M815.0,3324.4 L816.0,3324.4 L817.0,3324.4 L818.0,3324.4 L819.0,3324.4 L820.0,3324.4 L821.0,3324.4 L822.0,3324.4 L823.0,3324.4 L824.0,3324.4 L825.0,3324.4 L826.0,3324.4 L827.0,3324.4 L828.0,3324.4 L829.0,3324.4 L830.0,3324.4 L831.0,3324.4 L831.6,3324.4 L832.0,3317.9 L833.0,3300.9 L833.5,3293.0 L834.0,3293.2 L835.0,3293.5 L836.0,3293.8 L837.0,3294.2 L838.0,3294.5 L839.0,3294.8 L839.0,3294.8 L840.0,3287.9 L841.0,3280.9 L842.0,3273.9 L842.7,3269.0 L843.0,3267.8 L844.0,3263.8 L845.0,3259.8 L846.0,3255.8 L846.4,3254.2 L847.0,3253.8 L848.0,3253.1 L848.2,3253.0 L849.0,3252.5 L849.2,3252.4 L850.0,3178.8 L850.1,3171.1 L851.0,3171.1 L851.9,3171.1 L852.0,3171.1 L853.0,3171.1 L853.8,3171.1 L854.0,3181.6 L854.7,3215.4 L855.0,3215.4 L855.6,3215.4 L856.0,3215.4 L857.0,3215.4 L858.0,3215.4 L859.0,3215.4 L859.3,3215.4 L860.0,3258.9 L860.2,3274.5 L861.0,3278.3 L862.0,3283.3 L863.0,3288.3 L863.9,3293.0 L864.0,3293.0 L865.0,3292.3 L866.0,3291.6 L866.7,3291.2 L867.0,3291.4 L868.0,3292.4 L868.6,3293.0 L869.0,3293.4 L870.0,3294.4 L870.4,3294.8 L871.0,3287.1 L872.0,3274.1 L872.2,3270.8 L873.0,3265.2 L874.0,3257.7 L875.0,3250.2 L875.9,3243.1 L876.0,3241.2 L877.0,3208.6 L878.0,3175.9 L878.7,3152.7 L879.0,3152.5 L880.0,3152.1 L881.0,3151.7 L882.0,3151.3 L883.0,3150.9 L883.3,3150.8 L884.0,3163.3 L885.0,3182.0 L886.0,3200.7 L886.1,3202.5 L887.0,3134.0 L887.0,3132.3 L888.0,3132.3 L888.9,3132.3 L889.0,3132.3 L890.0,3132.3 L891.0,3132.3 L891.6,3132.3 L892.0,3155.4 L892.6,3191.4 L893.0,3191.9 L894.0,3192.9 L895.0,3193.9 L896.0,3194.9 L896.3,3195.1 L897.0,3223.4 L898.0,3261.4 L898.1,3265.3 L899.0,3265.3 L899.9,3265.3 L900.0,3265.3 L901.0,3265.3 L901.8,3265.3 L902.0,3267.3 L903.0,3277.3 L903.6,3283.8 L904.0,3283.9 L905.0,3284.4 L906.0,3284.9 L907.0,3285.4 L907.3,3285.6 L908.0,3285.2 L909.0,3284.5 L910.0,3283.8 L910.1,3283.8 L911.0,3199.7 L911.0,3197.0 L912.0,3196.6 L912.9,3196.2 L913.0,3196.2 L914.0,3195.8 L915.0,3195.4 L915.6,3195.1 L916.0,3178.1 L916.6,3150.8 L917.0,3150.8 L918.0,3150.8 L919.0,3150.8 L920.0,3150.8 L921.0,3150.8 L921.2,3150.8 L922.0,3232.2 L922.1,3243.1 L923.0,3244.0 L924.0,3245.0 L925.0,3246.0 L925.8,3246.8 L926.0,3247.0 L927.0,3248.0 L928.0,3249.0 L929.0,3250.0 L929.5,3250.5 L930.0,3258.6 L931.0,3274.6 L931.3,3280.1 L932.0,3282.7 L933.0,3286.7 L934.0,3290.7 L935.0,3294.7 L935.0,3294.8 L936.0,3294.4 L936.9,3293.9 L937.0,3293.9 L938.0,3293.4 L938.7,3293.0 L939.0,3291.5 L940.0,3286.0 L941.0,3280.5 L942.0,3275.0 L942.4,3272.7 L943.0,3266.3 L944.0,3255.3 L944.3,3252.4 L945.0,3244.3 L946.0,3233.3 L946.1,3232.1 L947.0,3231.8 L948.0,3231.4 L949.0,3231.1 L949.8,3230.8 L950.0,3230.8 L951.0,3230.4 L951.7,3230.2 L952.0,3217.9 L953.0,3181.9 L953.5,3163.7 L954.0,3163.7 L955.0,3163.7 L955.4,3163.7 L956.0,3163.7 L957.0,3163.7 L958.0,3163.7 L959.0,3163.7 L959.0,3163.7 L960.0,3163.7 L961.0,3163.7 L962.0,3163.7 L962.7,3163.7 L963.0,3163.7 L964.0,3163.7 L964.6,3163.7 L965.0,3181.2 L966.0,3223.2 L966.4,3241.3 L967.0,3241.6 L968.0,3242.1 L969.0,3242.6 L970.0,3243.1 L970.1,3243.1 L971.0,3255.4 L972.0,3269.0 L972.0,3269.1 L973.0,3272.1 L974.0,3275.1 L975.0,3278.1 L975.7,3280.1 L976.0,3281.4 L977.0,3285.4 L977.5,3287.5 L978.0,3289.4 L978.4,3291.2 L979.0,3218.8 L979.4,3173.0 L980.0,3172.6 L981.0,3172.1 L981.2,3172.0 L982.0,3171.6 L983.0,3171.1 L983.1,3171.1 L984.0,3137.0 L984.9,3104.6 L985.0,3104.6 L986.0,3104.0 L987.0,3103.4 L988.0,3102.8 L989.0,3102.2 L990.0,3101.6 L990.4,3101.3 L991.0,3101.0 L992.0,3100.4 L993.0,3099.8 L994.0,3099.2 L994.1,3099.1 L995.0,3093.3 L996.0,3086.6 L996.9,3080.6 L997.0,3080.6 L997.8,3080.0 L998.0,3079.9 L999.0,3079.2 L999.7,3078.8 L1000.0,3067.0 L1000.6,3045.5 L1001.0,3045.5 L1001.5,3045.5 L1002.0,3045.5 L1002.4,3045.5 L1003.0,3045.5 L1004.0,3045.5 L1005.0,3045.5 L1006.0,3045.5 L1007.0,3045.5 L1007.0,3045.5 L1007.9,3136.0 L1008.0,3136.1 L1009.0,3136.6 L1009.8,3137.0 L1010.0,3137.1 L1011.0,3137.6 L1011.6,3137.9 L1012.0,3144.7 L1012.5,3154.5 L1013.0,3162.7 L1013.5,3171.1 L1014.0,3174.0 L1015.0,3179.5 L1015.3,3181.3 L1016.0,3185.0 L1017.0,3190.5 L1017.2,3191.4 L1018.0,3207.4 L1019.0,3226.4 L1019.0,3226.5 L1020.0,3226.5 L1021.0,3226.5 L1022.0,3226.5 L1022.7,3226.5 L1023.0,3226.5 L1024.0,3226.5 L1024.5,3226.5 L1025.0,3226.5 L1026.0,3226.5 L1027.0,3226.5 L1027.3,3226.5 L1028.0,3227.5 L1029.0,3229.0 L1030.0,3230.5 L1030.1,3230.7 L1031.0,3232.0 L1031.0,3232.1 L1031.9,3110.2 L1032.0,3110.2 L1033.0,3110.2 L1033.8,3110.2 L1034.0,3110.2 L1035.0,3110.2 L1036.0,3110.2 L1036.6,3110.2 L1037.0,3164.9 L1037.5,3222.8 L1038.0,3225.7 L1039.0,3231.2 L1040.0,3236.7 L1041.0,3242.2 L1041.2,3243.1 L1042.0,3243.6 L1043.0,3244.1 L1043.0,3244.1 L1044.0,3244.6 L1044.9,3245.0 L1045.0,3243.7 L1046.0,3234.7 L1046.7,3228.4 L1047.0,3228.4 L1048.0,3228.4 L1048.6,3228.4 L1049.0,3228.4 L1050.0,3228.4 L1051.0,3228.4 L1051.3,3228.4 L1052.0,3244.6 L1052.2,3250.5 L1053.0,3250.9 L1054.0,3251.4 L1055.0,3251.9 L1055.9,3252.4 L1056.0,3252.6 L1057.0,3257.0 L1058.0,3261.3 L1059.0,3265.6 L1060.0,3270.0 L1061.0,3274.3 L1061.5,3276.4 L1062.0,3276.9 L1063.0,3277.9 L1064.0,3278.9 L1065.0,3279.9 L1065.2,3280.1 L1066.0,3260.3 L1067.0,3236.3 L1067.0,3235.8 L1068.0,3235.6 L1069.0,3235.4 L1070.0,3235.2 L1071.0,3235.0 L1072.0,3234.8 L1072.6,3234.6 L1073.0,3234.6 L1074.0,3234.4 L1075.0,3234.2 L1076.0,3234.0 L1076.3,3233.9 L1077.0,3252.5 L1078.0,3277.5 L1078.1,3280.1 L1079.0,3280.5 L1080.0,3281.0 L1081.0,3281.5 L1081.8,3281.9 L1082.0,3277.9 L1083.0,3258.4 L1083.6,3245.9 L1084.0,3238.9 L1085.0,3219.4 L1085.5,3209.9 L1086.0,3200.2 L1087.0,3181.2 L1087.3,3174.8 L1088.0,3174.5 L1089.0,3174.1 L1090.0,3173.6 L1091.0,3173.2 L1091.0,3173.2 L1092.0,3172.7 L1093.0,3172.3 L1094.0,3171.8 L1094.7,3171.5 L1095.0,3171.4 L1095.6,3171.1 L1096.0,3200.1 L1096.6,3246.8 L1097.0,3247.0 L1098.0,3247.4 L1098.4,3247.6 L1099.0,3247.8 L1100.0,3248.2 L1101.0,3248.6 L1101.2,3248.7 L1102.0,3245.4 L1102.1,3245.0 L1103.0,3241.4 L1104.0,3237.4 L1104.9,3233.9 L1105.0,3229.8 L1105.8,3202.5 L1106.0,3195.8 L1107.0,3161.8 L1107.7,3139.7 L1108.0,3139.7 L1109.0,3139.7 L1110.0,3139.7 L1111.0,3139.7 L1111.3,3139.7 L1112.0,3131.8 L1113.0,3119.8 L1113.2,3117.6 L1114.0,3117.6 L1115.0,3117.6 L1116.0,3117.6 L1116.9,3117.6 L1117.0,3136.4 L1117.8,3267.1 L1118.0,3267.6 L1119.0,3270.0 L1120.0,3272.4 L1121.0,3274.8 L1122.0,3277.2 L1122.4,3278.2 L1123.0,3275.9 L1124.0,3271.9 L1125.0,3267.9 L1126.0,3263.9 L1127.0,3259.9 L1127.0,3259.8 L1128.0,3259.5 L1128.0,3259.5 L1129.0,3259.2 L1130.0,3258.9 L1131.0,3258.6 L1131.7,3258.4 L1132.0,3258.3 L1133.0,3258.1 L1133.5,3257.9 L1134.0,3262.9 L1135.0,3272.9 L1135.4,3276.4 L1136.0,3275.7 L1137.0,3274.7 L1137.2,3274.5 L1138.0,3273.7 L1139.0,3272.7 L1139.0,3272.7 L1140.0,3272.7 L1141.0,3272.7 L1142.0,3272.7 L1142.7,3272.7 L1143.0,3268.2 L1144.0,3251.2 L1144.6,3241.3 L1145.0,3241.2 L1146.0,3241.0 L1147.0,3240.8 L1148.0,3240.5 L1149.0,3240.3 L1150.0,3240.1 L1151.0,3239.9 L1152.0,3239.6 L1152.9,3239.4 L1153.0,3240.6 L1153.8,3249.3 L1154.0,3251.2 L1155.0,3261.9 L1155.7,3269.0 L1156.0,3271.2 L1157.0,3277.7 L1158.0,3284.2 L1159.0,3290.7 L1159.4,3293.0 L1160.0,3293.3 L1161.0,3293.8 L1161.2,3293.9 L1162.0,3294.3 L1163.0,3294.8 L1164.0,3295.3 L1165.0,3295.8 L1166.0,3296.3 L1166.7,3296.7 L1167.0,3297.4 L1168.0,3300.0 L1169.0,3302.7 L1170.0,3305.4 L1171.0,3308.0 L1172.0,3310.7 L1172.3,3311.5 L1173.0,3312.4 L1174.0,3313.6 L1175.0,3314.9 L1176.0,3316.1 L1177.0,3317.4 L1178.0,3318.6 L1179.0,3319.9 L1179.7,3320.7 L1180.0,3320.8 L1181.0,3321.0 L1182.0,3321.3 L1183.0,3321.5 L1184.0,3321.7 L1185.0,3322.0 L1186.0,3322.2 L1187.0,3322.5 L1188.0,3322.7 L1189.0,3322.9 L1190.0,3323.2 L1191.0,3323.4 L1192.0,3323.7 L1193.0,3323.9 L1194.0,3324.2 L1195.0,3324.4 L1195.0,3325.4 L1194.0,3325.2 L1193.0,3324.9 L1192.0,3324.7 L1191.0,3324.4 L1190.0,3324.2 L1189.0,3324.1 L1188.0,3324.0 L1187.0,3324.0 L1186.0,3323.9 L1185.0,3323.8 L1184.0,3323.8 L1183.0,3323.7 L1182.0,3323.7 L1181.0,3323.6 L1180.0,3323.6 L1179.7,3323.6 L1179.0,3323.5 L1178.0,3323.5 L1177.0,3323.4 L1176.0,3323.4 L1175.0,3323.3 L1174.0,3323.2 L1173.0,3323.2 L1172.3,3323.2 L1172.0,3323.1 L1171.0,3323.1 L1170.0,3323.0 L1169.0,3323.0 L1168.0,3322.9 L1167.0,3322.9 L1166.7,3322.9 L1166.0,3322.8 L1165.0,3322.8 L1164.0,3322.7 L1163.0,3322.6 L1162.0,3322.6 L1161.2,3322.5 L1161.0,3322.4 L1160.0,3321.9 L1159.4,3321.6 L1159.0,3321.4 L1158.0,3320.9 L1157.0,3320.4 L1156.0,3319.9 L1155.7,3319.8 L1155.0,3319.4 L1154.0,3318.9 L1153.8,3318.9 L1153.0,3318.2 L1152.9,3318.1 L1152.0,3317.3 L1151.0,3316.5 L1150.0,3315.7 L1149.0,3314.8 L1148.0,3314.0 L1147.0,3313.2 L1146.0,3312.3 L1145.0,3311.5 L1144.6,3311.2 L1144.0,3310.7 L1143.0,3309.8 L1142.7,3309.6 L1142.0,3310.1 L1141.0,3310.8 L1140.0,3311.4 L1139.0,3312.1 L1139.0,3312.1 L1138.0,3312.8 L1137.2,3313.3 L1137.0,3313.1 L1136.0,3311.7 L1135.4,3310.9 L1135.0,3310.4 L1134.0,3309.1 L1133.5,3308.4 L1133.0,3307.7 L1132.0,3306.4 L1131.7,3305.9 L1131.0,3305.9 L1130.0,3305.9 L1129.0,3305.9 L1128.0,3305.9 L1128.0,3305.9 L1127.0,3307.8 L1127.0,3307.9 L1126.0,3309.9 L1125.0,3311.9 L1124.0,3313.9 L1123.0,3315.9 L1122.4,3317.0 L1122.0,3316.6 L1121.0,3315.6 L1120.0,3314.6 L1119.0,3313.6 L1118.0,3312.6 L1117.8,3312.4 L1117.0,3311.6 L1116.9,3311.5 L1116.0,3310.6 L1115.0,3309.6 L1114.0,3308.6 L1113.2,3307.8 L1113.0,3307.3 L1112.0,3305.1 L1111.3,3303.6 L1111.0,3302.8 L1110.0,3300.6 L1109.0,3298.3 L1108.0,3296.1 L1107.7,3295.3 L1107.0,3293.8 L1106.0,3291.6 L1105.8,3291.2 L1105.0,3290.4 L1104.9,3290.2 L1104.0,3289.4 L1103.0,3288.4 L1102.1,3287.5 L1102.0,3288.1 L1101.2,3293.0 L1101.0,3294.1 L1100.0,3300.1 L1099.0,3306.1 L1098.4,3309.6 L1098.0,3309.6 L1097.0,3309.6 L1096.6,3309.6 L1096.0,3309.6 L1095.6,3309.6 L1095.0,3309.6 L1094.7,3309.6 L1094.0,3303.8 L1093.0,3295.8 L1092.0,3287.8 L1091.0,3280.1 L1091.0,3280.2 L1090.0,3283.2 L1089.0,3286.2 L1088.0,3289.2 L1087.3,3291.2 L1087.0,3292.2 L1086.0,3295.2 L1085.5,3296.7 L1085.0,3298.2 L1084.0,3301.2 L1083.6,3302.2 L1083.0,3302.8 L1082.0,3303.6 L1081.8,3303.8 L1081.0,3304.4 L1080.0,3305.3 L1079.0,3306.1 L1078.1,3306.9 L1078.0,3306.9 L1077.0,3307.8 L1076.3,3308.4 L1076.0,3308.6 L1075.0,3309.4 L1074.0,3310.3 L1073.0,3311.1 L1072.6,3311.5 L1072.0,3311.5 L1071.0,3311.5 L1070.0,3311.5 L1069.0,3311.5 L1068.0,3311.5 L1067.0,3311.5 L1067.0,3311.5 L1066.0,3311.5 L1065.2,3311.5 L1065.0,3311.4 L1064.0,3310.8 L1063.0,3310.2 L1062.0,3309.6 L1061.5,3309.3 L1061.0,3309.0 L1060.0,3308.4 L1059.0,3307.8 L1058.0,3307.2 L1057.0,3306.6 L1056.0,3306.0 L1055.9,3305.9 L1055.0,3305.5 L1054.0,3305.0 L1053.0,3304.5 L1052.2,3304.1 L1052.0,3304.0 L1051.3,3303.6 L1051.0,3303.5 L1050.0,3303.0 L1049.0,3302.5 L1048.6,3302.2 L1048.0,3302.4 L1047.0,3302.8 L1046.7,3302.9 L1046.0,3303.1 L1045.0,3303.4 L1044.9,3303.5 L1044.0,3303.8 L1043.0,3304.1 L1043.0,3304.1 L1042.0,3302.4 L1041.2,3301.0 L1041.0,3300.7 L1040.0,3299.1 L1039.0,3297.4 L1038.0,3295.7 L1037.5,3294.8 L1037.0,3294.1 L1036.6,3293.5 L1036.0,3292.6 L1035.0,3291.1 L1034.0,3289.6 L1033.8,3289.3 L1033.0,3291.3 L1032.0,3293.8 L1031.9,3293.9 L1031.0,3296.2 L1031.0,3296.3 L1030.1,3298.5 L1030.0,3298.5 L1029.0,3297.8 L1028.0,3297.1 L1027.3,3296.7 L1027.0,3296.5 L1026.0,3295.8 L1025.0,3295.1 L1024.5,3294.8 L1024.0,3295.2 L1023.0,3295.9 L1022.7,3296.1 L1022.0,3296.5 L1021.0,3297.2 L1020.0,3297.9 L1019.0,3298.5 L1019.0,3298.5 L1018.0,3296.0 L1017.2,3293.9 L1017.0,3293.5 L1016.0,3291.0 L1015.3,3289.3 L1015.0,3284.5 L1014.0,3269.2 L1013.5,3261.0 L1013.0,3253.8 L1012.5,3246.8 L1012.0,3246.8 L1011.6,3246.8 L1011.0,3246.8 L1010.0,3246.8 L1009.8,3246.8 L1009.0,3260.8 L1008.0,3278.8 L1007.9,3280.1 L1007.0,3280.1 L1007.0,3280.1 L1006.0,3280.1 L1005.0,3280.1 L1004.0,3280.1 L1003.0,3280.1 L1002.4,3280.1 L1002.0,3262.0 L1001.5,3239.4 L1001.0,3241.3 L1000.6,3242.7 L1000.0,3244.8 L999.7,3245.9 L999.0,3248.3 L998.0,3251.8 L997.8,3252.4 L997.0,3255.5 L996.9,3255.8 L996.0,3259.2 L995.0,3263.0 L994.1,3266.2 L994.0,3266.7 L993.0,3270.5 L992.0,3274.2 L991.0,3278.0 L990.4,3280.1 L990.0,3280.8 L989.0,3282.4 L988.0,3284.0 L987.0,3285.6 L986.0,3287.2 L985.0,3288.8 L984.9,3288.9 L984.0,3290.4 L983.1,3291.9 L983.0,3292.0 L982.0,3293.6 L981.2,3294.8 L981.0,3295.7 L980.0,3299.7 L979.4,3302.2 L979.0,3303.7 L978.4,3305.9 L978.0,3307.7 L977.5,3309.6 L977.0,3309.4 L976.0,3308.9 L975.7,3308.7 L975.0,3308.4 L974.0,3307.9 L973.0,3307.4 L972.0,3306.9 L972.0,3306.9 L971.0,3306.4 L970.1,3305.9 L970.0,3305.8 L969.0,3304.8 L968.0,3303.8 L967.0,3302.8 L966.4,3302.2 L966.0,3301.8 L965.0,3300.8 L964.6,3300.4 L964.0,3299.8 L963.0,3298.8 L962.7,3298.5 L962.0,3294.9 L961.0,3289.9 L960.0,3284.9 L959.0,3280.1 L959.0,3280.1 L958.0,3280.1 L957.0,3280.1 L956.0,3280.1 L955.4,3280.1 L955.0,3282.2 L954.0,3288.2 L953.5,3291.2 L953.0,3294.2 L952.0,3300.2 L951.7,3302.2 L951.0,3306.2 L950.0,3312.2 L949.8,3313.3 L949.0,3313.3 L948.0,3313.3 L947.0,3313.3 L946.1,3313.3 L946.0,3313.3 L945.0,3313.3 L944.3,3313.3 L944.0,3313.4 L943.0,3313.6 L942.4,3313.8 L942.0,3313.9 L941.0,3314.1 L940.0,3314.4 L939.0,3314.6 L938.7,3314.7 L938.0,3314.9 L937.0,3315.1 L936.9,3315.2 L936.0,3315.2 L935.0,3315.2 L935.0,3315.2 L934.0,3315.2 L933.0,3315.2 L932.0,3315.2 L931.3,3315.2 L931.0,3315.2 L930.0,3315.2 L929.5,3315.2 L929.0,3315.2 L928.0,3315.2 L927.0,3315.2 L926.0,3315.2 L925.8,3315.2 L925.0,3314.8 L924.0,3314.3 L923.0,3313.8 L922.1,3313.3 L922.0,3313.1 L921.2,3311.5 L921.0,3311.1 L920.0,3309.1 L919.0,3307.1 L918.0,3305.1 L917.0,3303.1 L916.6,3302.2 L916.0,3302.2 L915.6,3302.2 L915.0,3302.2 L914.0,3302.2 L913.0,3302.2 L912.9,3302.2 L912.0,3303.1 L911.0,3304.1 L911.0,3304.1 L910.1,3305.0 L910.0,3305.1 L909.0,3306.1 L908.0,3307.1 L907.3,3307.8 L907.0,3308.1 L906.0,3309.1 L905.0,3310.1 L904.0,3311.1 L903.6,3311.5 L903.0,3312.1 L902.0,3313.1 L901.8,3313.3 L901.0,3314.1 L900.0,3315.1 L899.9,3315.2 L899.0,3314.7 L898.1,3314.2 L898.0,3314.2 L897.0,3313.7 L896.3,3313.3 L896.0,3313.2 L895.0,3312.7 L894.0,3312.2 L893.0,3311.7 L892.6,3311.5 L892.0,3311.2 L891.6,3311.0 L891.0,3310.7 L890.0,3310.2 L889.0,3309.7 L888.9,3309.6 L888.0,3309.7 L887.0,3309.9 L887.0,3309.9 L886.1,3310.0 L886.0,3310.0 L885.0,3310.2 L884.0,3310.3 L883.3,3310.4 L883.0,3310.5 L882.0,3310.6 L881.0,3310.7 L880.0,3310.9 L879.0,3311.0 L878.7,3311.1 L878.0,3311.2 L877.0,3311.3 L876.0,3311.5 L875.9,3311.5 L875.0,3313.8 L874.0,3316.3 L873.0,3318.8 L872.2,3320.7 L872.0,3321.0 L871.0,3322.0 L870.4,3322.5 L870.0,3321.7 L869.0,3319.7 L868.6,3318.9 L868.0,3318.7 L867.0,3318.5 L866.7,3318.5 L866.0,3318.3 L865.0,3318.1 L864.0,3317.9 L863.9,3317.9 L863.0,3317.7 L862.0,3317.5 L861.0,3317.3 L860.2,3317.2 L860.0,3317.1 L859.3,3317.0 L859.0,3316.5 L858.0,3315.0 L857.0,3313.5 L856.0,3312.0 L855.6,3311.5 L855.0,3312.4 L854.7,3312.9 L854.0,3313.9 L853.8,3314.2 L853.0,3315.4 L852.0,3316.9 L851.9,3317.0 L851.0,3317.9 L850.1,3318.9 L850.0,3318.9 L849.2,3319.8 L849.0,3319.9 L848.2,3320.7 L848.0,3320.7 L847.0,3320.9 L846.4,3320.9 L846.0,3321.0 L845.0,3321.1 L844.0,3321.2 L843.0,3321.4 L842.7,3321.4 L842.0,3321.5 L841.0,3321.6 L840.0,3321.7 L839.0,3321.9 L839.0,3321.9 L838.0,3322.0 L837.0,3322.1 L836.0,3322.2 L835.0,3322.4 L834.0,3322.5 L833.5,3322.5 L833.0,3323.0 L832.0,3324.0 L831.6,3325.4 L831.0,3325.4 L830.0,3325.4 L829.0,3325.4 L828.0,3325.4 L827.0,3325.4 L826.0,3325.4 L825.0,3325.4 L824.0,3325.4 L823.0,3325.4 L822.0,3325.4 L821.0,3325.4 L820.0,3325.4 L819.0,3325.4 L818.0,3325.4 L817.0,3325.4 L816.0,3325.4 L815.0,3325.4 Z" fill="#0a74ba" stroke="#0a74ba" stroke-width="1.2" stroke-linejoin="miter"/>
<path d="M1000.6,3080.0 L1001.5,3046.0 L1006.5,3046.0 L1007.4,3080.0 Z" fill="#0a74ba" stroke="#0a74ba" stroke-width="1"/>
</g>
<text x="962.0" y="3441.9" class="xl">cm<tspan class="sup" dx="-6" dy="-31">-1</tspan></text>
<text transform="translate(71.8,3182.7) rotate(-90)" text-anchor="middle" class="yl" textLength="322" lengthAdjust="spacingAndGlyphs">Relative Match</text>
<rect x="275.6" y="3485.1" width="1458.9" height="279.0999999999999" fill="none" stroke="#404040" stroke-width="3"/>
<text transform="translate(257.1,3781.2) scale(0.96,1)" text-anchor="end" class="t">0</text>
<path d="M275.6,3686.9h15M1734.5,3686.9h-15" stroke="#404040" stroke-width="3"/>
<text transform="translate(257.1,3703.9) scale(0.96,1)" text-anchor="end" class="t">500000</text>
<path d="M275.6,3609.7h15M1734.5,3609.7h-15" stroke="#404040" stroke-width="3"/>
<text transform="translate(257.1,3626.7) scale(0.94,1)" text-anchor="end" class="t">1e+006</text>
<path d="M275.6,3532.4h15M1734.5,3532.4h-15" stroke="#404040" stroke-width="3"/>
<text transform="translate(257.1,3549.4) scale(0.94,1)" text-anchor="end" class="t">1.5e+006</text>
<text transform="translate(275.6,3821.6) scale(0.96,1)" text-anchor="middle" class="t">3960</text>
<path d="M640.3,3764.2v-15M640.3,3485.1v15" stroke="#404040" stroke-width="3"/>
<text transform="translate(640.3,3821.6) scale(0.96,1)" text-anchor="middle" class="t">3980</text>
<path d="M1005.1,3764.2v-15M1005.1,3485.1v15" stroke="#404040" stroke-width="3"/>
<text transform="translate(1005.1,3821.6) scale(0.96,1)" text-anchor="middle" class="t">4000</text>
<path d="M1369.8,3764.2v-15M1369.8,3485.1v15" stroke="#404040" stroke-width="3"/>
<text transform="translate(1369.8,3821.6) scale(0.96,1)" text-anchor="middle" class="t">4020</text>
<text transform="translate(1734.5,3821.6) scale(0.96,1)" text-anchor="middle" class="t">4040</text>
<clipPath id="c3485"><rect x="272.6" y="3483.1" width="1464.9" height="283.0999999999999"/></clipPath>
<g clip-path="url(#c3485)">
<path d="M275.6,3669.7 C277.0,3671.1 279.5,3675.8 283.7,3677.9 C287.9,3680.0 295.0,3682.8 300.7,3682.0 C306.4,3681.2 311.5,3678.7 317.8,3673.2 C324.1,3667.7 331.5,3656.3 338.3,3649.2 C345.1,3642.1 352.0,3636.5 358.8,3630.8 C365.6,3625.1 371.3,3621.1 379.3,3615.1 C387.3,3609.1 399.3,3597.2 406.7,3594.6 C414.1,3592.0 418.6,3598.3 423.7,3599.4 C428.8,3600.5 432.8,3603.9 437.4,3601.4 C442.0,3598.9 446.0,3595.1 451.1,3584.3 C456.2,3573.5 463.1,3547.3 468.2,3536.5 C473.3,3525.7 477.2,3519.4 481.8,3519.4 C486.4,3519.4 490.9,3524.5 495.5,3536.5 C500.1,3548.5 504.1,3570.7 509.2,3591.2 C514.3,3611.7 520.5,3645.5 526.2,3659.5 C531.9,3673.5 537.0,3674.6 543.3,3675.2 C549.6,3675.8 557.0,3668.4 563.8,3662.9 C570.6,3657.4 577.5,3647.3 584.3,3642.4 C591.1,3637.5 595.7,3633.8 604.8,3633.5 C613.9,3633.2 629.3,3636.3 639.0,3640.4 C648.7,3644.5 655.5,3652.4 662.9,3658.1 C670.3,3663.8 676.0,3673.7 683.4,3674.5 C690.8,3675.3 698.8,3668.2 707.3,3662.9 C715.8,3657.6 726.6,3653.2 734.6,3642.4 C742.6,3631.6 748.8,3619.1 755.1,3598.0 C761.4,3576.9 767.1,3534.9 772.2,3516.0 C777.3,3497.1 780.8,3482.2 785.9,3484.5 C791.0,3486.8 797.3,3508.5 803.0,3529.7 C808.7,3550.9 814.4,3584.9 820.1,3611.7 C825.8,3638.4 830.9,3672.5 837.1,3690.2 C843.4,3707.8 849.6,3714.8 857.6,3717.6 C865.6,3720.4 874.8,3711.9 885.0,3707.3 C895.2,3702.7 907.7,3693.9 919.1,3690.2 C930.5,3686.4 941.9,3685.6 953.3,3684.8 C964.7,3684.0 977.9,3686.4 987.5,3685.5 C997.1,3684.6 1002.3,3683.2 1010.8,3679.3 C1019.3,3675.4 1028.1,3669.7 1038.5,3662.0 C1048.9,3654.3 1063.9,3635.8 1073.1,3632.9 C1082.3,3630.0 1085.8,3638.1 1093.9,3644.7 C1102.0,3651.3 1113.5,3670.4 1121.6,3672.4 C1129.7,3674.4 1135.5,3661.6 1142.4,3656.4 C1149.3,3651.2 1156.2,3640.8 1163.1,3641.2 C1170.0,3641.5 1177.0,3650.4 1183.9,3658.5 C1190.8,3666.6 1196.1,3679.9 1204.7,3689.7 C1213.3,3699.5 1226.6,3715.1 1235.8,3717.4 C1245.0,3719.7 1251.4,3711.0 1260.1,3703.5 C1268.8,3696.0 1277.4,3682.2 1287.8,3672.4 C1298.2,3662.6 1312.0,3657.4 1322.4,3644.7 C1332.8,3632.0 1342.6,3607.4 1350.1,3596.2 C1357.6,3585.0 1361.1,3576.9 1367.4,3577.5 C1373.8,3578.1 1381.9,3589.7 1388.2,3599.7 C1394.5,3609.7 1398.0,3627.9 1405.5,3637.7 C1413.0,3647.5 1421.7,3652.9 1433.2,3658.5 C1444.8,3664.1 1461.0,3670.4 1474.8,3671.0 C1488.6,3671.6 1502.4,3660.3 1516.3,3662.0 C1530.2,3663.7 1544.1,3682.8 1557.9,3681.4 C1571.8,3680.0 1586.7,3657.5 1599.4,3653.7 C1612.1,3649.9 1621.9,3659.2 1634.0,3658.5 C1646.1,3657.8 1659.4,3649.8 1672.1,3649.5 C1684.8,3649.2 1699.8,3658.5 1710.2,3656.4 C1720.6,3654.3 1730.5,3640.2 1734.5,3637.0" fill="none" stroke="#0a74ba" stroke-width="5.0" stroke-linejoin="round" stroke-linecap="round"/>
</g>
<text x="962.0" y="3886.5" class="xl">cm<tspan class="sup" dx="-6" dy="-31">-1</tspan></text>
<text transform="translate(71.8,3622.7) rotate(-90)" text-anchor="middle" class="yl" textLength="322" lengthAdjust="spacingAndGlyphs">Relative Match</text>
<text transform="translate(1961.5,3446.7) scale(0.98,1)" class="lab">(D)</text>
<rect x="20.5" y="4004.0" width="1816.5" height="913.0" fill="none" stroke="#0d94d6" stroke-width="4.6"/>
<rect x="274.7" y="4045.8" width="1456.1" height="278.0" fill="none" stroke="#404040" stroke-width="3"/>
<text transform="translate(256.2,4340.8) scale(0.96,1)" text-anchor="end" class="t">0</text>
<path d="M274.7,4279.1h15M1730.8,4279.1h-15" stroke="#404040" stroke-width="3"/>
<text transform="translate(256.2,4296.1) scale(0.96,1)" text-anchor="end" class="t">200000</text>
<path d="M274.7,4234.4h15M1730.8,4234.4h-15" stroke="#404040" stroke-width="3"/>
<text transform="translate(256.2,4251.4) scale(0.96,1)" text-anchor="end" class="t">400000</text>
<path d="M274.7,4189.7h15M1730.8,4189.7h-15" stroke="#404040" stroke-width="3"/>
<text transform="translate(256.2,4206.7) scale(0.96,1)" text-anchor="end" class="t">600000</text>
<path d="M274.7,4145.0h15M1730.8,4145.0h-15" stroke="#404040" stroke-width="3"/>
<text transform="translate(256.2,4162.0) scale(0.96,1)" text-anchor="end" class="t">800000</text>
<path d="M274.7,4100.3h15M1730.8,4100.3h-15" stroke="#404040" stroke-width="3"/>
<text transform="translate(256.2,4117.3) scale(0.94,1)" text-anchor="end" class="t">1e+006</text>
<path d="M274.7,4055.6h15M1730.8,4055.6h-15" stroke="#404040" stroke-width="3"/>
<text transform="translate(256.2,4072.6) scale(0.94,1)" text-anchor="end" class="t">1.2e+006</text>
<text transform="translate(274.7,4380.7) scale(0.96,1)" text-anchor="middle" class="t">0</text>
<path d="M456.7,4323.8v-15M456.7,4045.8v15" stroke="#404040" stroke-width="3"/>
<text transform="translate(456.7,4380.7) scale(0.96,1)" text-anchor="middle" class="t">1000</text>
<path d="M638.7,4323.8v-15M638.7,4045.8v15" stroke="#404040" stroke-width="3"/>
<text transform="translate(638.7,4380.7) scale(0.96,1)" text-anchor="middle" class="t">2000</text>
<path d="M820.7,4323.8v-15M820.7,4045.8v15" stroke="#404040" stroke-width="3"/>
<text transform="translate(820.7,4380.7) scale(0.96,1)" text-anchor="middle" class="t">3000</text>
<path d="M1002.8,4323.8v-15M1002.8,4045.8v15" stroke="#404040" stroke-width="3"/>
<text transform="translate(1002.8,4380.7) scale(0.96,1)" text-anchor="middle" class="t">4000</text>
<path d="M1184.8,4323.8v-15M1184.8,4045.8v15" stroke="#404040" stroke-width="3"/>
<text transform="translate(1184.8,4380.7) scale(0.96,1)" text-anchor="middle" class="t">5000</text>
<path d="M1366.8,4323.8v-15M1366.8,4045.8v15" stroke="#404040" stroke-width="3"/>
<text transform="translate(1366.8,4380.7) scale(0.96,1)" text-anchor="middle" class="t">6000</text>
<path d="M1548.8,4323.8v-15M1548.8,4045.8v15" stroke="#404040" stroke-width="3"/>
<text transform="translate(1548.8,4380.7) scale(0.96,1)" text-anchor="middle" class="t">7000</text>
<text transform="translate(1730.8,4380.7) scale(0.96,1)" text-anchor="middle" class="t">8000</text>
<clipPath id="c4045"><rect x="271.7" y="4043.8" width="1462.1" height="282.0"/></clipPath>
<g clip-path="url(#c4045)">
<line x1="274.7" y1="4322.2" x2="1730.8" y2="4322.2" stroke="#0a74ba" stroke-width="4.6"/>
<path d="M815.0,4322.5 L816.0,4322.5 L817.0,4322.5 L818.0,4322.5 L819.0,4322.5 L820.0,4322.5 L821.0,4322.5 L822.0,4322.5 L823.0,4322.5 L824.0,4322.5 L825.0,4322.5 L826.0,4322.5 L827.0,4322.5 L827.0,4322.5 L827.9,4272.7 L828.0,4272.7 L829.0,4273.1 L830.0,4273.5 L831.0,4273.9 L832.0,4274.3 L832.5,4274.5 L833.0,4280.0 L833.5,4285.6 L834.0,4285.6 L835.0,4285.6 L836.0,4285.6 L836.2,4285.6 L837.0,4241.4 L837.2,4232.1 L838.0,4232.1 L839.0,4232.1 L840.0,4232.1 L841.0,4232.1 L841.8,4232.1 L842.0,4212.5 L842.7,4150.8 L843.0,4150.8 L844.0,4150.8 L845.0,4150.8 L846.0,4150.8 L846.4,4150.8 L847.0,4204.1 L847.3,4232.1 L848.0,4232.3 L849.0,4232.6 L850.0,4233.0 L851.0,4233.3 L852.0,4233.6 L852.9,4233.9 L853.0,4237.9 L853.8,4259.8 L854.0,4262.7 L855.0,4276.0 L856.0,4289.3 L856.6,4296.7 L857.0,4293.7 L858.0,4287.0 L859.0,4280.4 L859.3,4278.2 L860.0,4278.2 L861.0,4278.2 L862.0,4278.2 L863.0,4278.2 L863.0,4278.2 L864.0,4267.4 L864.9,4257.9 L865.0,4257.1 L866.0,4251.1 L867.0,4245.1 L867.6,4241.3 L868.0,4239.8 L869.0,4235.8 L870.0,4231.8 L871.0,4227.8 L872.0,4223.8 L872.2,4222.8 L873.0,4203.3 L874.0,4177.3 L875.0,4151.3 L875.0,4150.8 L876.0,4150.8 L876.9,4150.8 L877.0,4150.8 L878.0,4150.8 L879.0,4150.8 L879.6,4150.8 L880.0,4154.5 L881.0,4164.5 L881.5,4169.3 L882.0,4169.5 L882.4,4169.7 L883.0,4170.0 L884.0,4170.5 L884.3,4170.7 L885.0,4171.0 L885.2,4171.1 L886.0,4270.1 L886.1,4281.9 L887.0,4278.3 L888.0,4274.3 L888.9,4270.8 L889.0,4270.9 L890.0,4271.3 L891.0,4271.7 L892.0,4272.1 L893.0,4272.5 L893.5,4272.7 L894.0,4274.3 L895.0,4277.5 L896.0,4280.7 L897.0,4283.9 L898.0,4287.1 L898.1,4287.5 L899.0,4287.2 L900.0,4286.8 L901.0,4286.5 L902.0,4286.2 L902.7,4285.9 L903.0,4285.8 L903.6,4285.6 L904.0,4264.2 L904.6,4230.2 L905.0,4204.2 L905.5,4174.8 L906.0,4174.8 L907.0,4174.8 L908.0,4174.8 L908.3,4174.8 L909.0,4174.8 L910.0,4174.8 L910.1,4174.8 L911.0,4186.4 L912.0,4198.8 L912.0,4202.4 L912.9,4269.0 L913.0,4269.0 L914.0,4269.0 L915.0,4269.0 L916.0,4269.0 L917.0,4269.0 L918.0,4269.0 L918.4,4269.0 L919.0,4269.6 L920.0,4270.6 L921.0,4271.6 L922.0,4272.6 L922.1,4272.7 L923.0,4280.7 L924.0,4289.7 L925.0,4298.7 L925.8,4305.9 L926.0,4305.9 L927.0,4305.9 L928.0,4305.9 L929.0,4305.9 L930.0,4305.9 L931.0,4305.9 L931.3,4305.9 L932.0,4298.7 L933.0,4287.7 L934.0,4276.7 L935.0,4265.7 L935.0,4265.3 L936.0,4262.7 L937.0,4260.1 L937.8,4257.9 L938.0,4256.1 L939.0,4246.6 L940.0,4237.1 L941.0,4227.6 L941.5,4222.8 L942.0,4222.6 L943.0,4222.2 L943.3,4222.1 L944.0,4221.8 L945.0,4221.4 L945.2,4221.3 L946.0,4221.0 L946.1,4221.0 L947.0,4123.9 L947.0,4119.4 L948.0,4089.9 L948.0,4089.9 L949.0,4090.3 L949.8,4090.6 L950.0,4090.7 L951.0,4091.1 L952.0,4091.5 L952.6,4091.7 L953.0,4137.0 L953.5,4191.4 L954.0,4191.4 L955.0,4191.4 L956.0,4191.4 L956.3,4191.4 L957.0,4246.6 L957.2,4261.6 L958.0,4261.9 L959.0,4262.2 L960.0,4262.5 L961.0,4262.9 L962.0,4263.2 L962.7,4263.5 L963.0,4264.6 L964.0,4269.1 L965.0,4273.6 L966.0,4278.1 L966.4,4280.1 L967.0,4280.4 L968.0,4280.9 L969.0,4281.4 L970.0,4281.9 L970.1,4281.9 L971.0,4279.0 L972.0,4275.7 L972.9,4272.7 L973.0,4272.7 L974.0,4272.7 L975.0,4272.7 L975.7,4272.7 L976.0,4272.7 L977.0,4272.7 L977.5,4272.7 L978.0,4272.0 L979.0,4270.7 L980.0,4269.4 L980.3,4269.0 L981.0,4184.2 L981.2,4160.0 L982.0,4150.5 L983.0,4138.5 L983.1,4137.9 L984.0,4135.2 L984.9,4132.7 L985.0,4132.4 L986.0,4129.6 L987.0,4126.8 L987.7,4124.9 L988.0,4110.4 L989.0,4066.4 L989.5,4043.7 L990.0,4043.7 L991.0,4043.7 L992.0,4043.7 L992.3,4043.7 L993.0,4043.7 L993.2,4043.7 L994.0,4083.3 L994.1,4089.9 L995.0,4090.3 L996.0,4090.8 L997.0,4091.3 L997.8,4091.7 L998.0,4091.7 L998.7,4091.7 L999.0,4134.6 L999.6,4221.0 L1000.0,4224.8 L1001.0,4234.8 L1002.0,4244.8 L1002.4,4248.7 L1003.0,4254.8 L1003.3,4257.9 L1004.0,4262.1 L1004.2,4263.5 L1005.0,4268.1 L1006.0,4274.1 L1007.0,4280.1 L1007.0,4280.1 L1008.0,4281.3 L1009.0,4282.5 L1010.0,4283.7 L1011.0,4284.9 L1011.6,4285.6 L1012.0,4287.5 L1013.0,4292.5 L1013.5,4294.8 L1014.0,4297.5 L1015.0,4302.5 L1015.3,4304.1 L1016.0,4282.1 L1017.0,4250.1 L1017.2,4245.0 L1018.0,4185.4 L1019.0,4114.4 L1019.0,4113.9 L1020.0,4113.9 L1020.9,4113.9 L1021.0,4113.9 L1022.0,4113.9 L1022.7,4113.9 L1023.0,4113.9 L1024.0,4113.9 L1024.5,4113.9 L1025.0,4163.6 L1025.5,4215.4 L1026.0,4217.9 L1027.0,4222.6 L1028.0,4227.2 L1028.2,4228.4 L1029.0,4239.0 L1030.0,4253.0 L1030.1,4254.2 L1031.0,4259.1 L1032.0,4264.4 L1032.9,4269.0 L1033.0,4268.9 L1034.0,4267.9 L1034.7,4267.1 L1035.0,4267.4 L1036.0,4268.4 L1037.0,4269.4 L1038.0,4270.4 L1038.4,4270.8 L1039.0,4274.1 L1040.0,4279.4 L1041.0,4284.7 L1041.2,4285.6 L1042.0,4286.7 L1043.0,4288.1 L1043.0,4288.1 L1044.0,4289.4 L1044.9,4290.5 L1045.0,4290.7 L1046.0,4292.1 L1046.7,4293.0 L1047.0,4293.1 L1048.0,4293.3 L1049.0,4293.6 L1050.0,4293.8 L1050.4,4293.9 L1051.0,4294.1 L1051.3,4294.2 L1052.0,4294.3 L1053.0,4294.6 L1054.0,4294.8 L1054.1,4294.8 L1055.0,4233.3 L1055.0,4232.1 L1056.0,4229.1 L1057.0,4226.1 L1058.0,4223.1 L1059.0,4220.1 L1060.0,4217.1 L1060.6,4215.4 L1061.0,4215.6 L1062.0,4215.9 L1063.0,4216.3 L1064.0,4216.6 L1065.0,4216.9 L1066.0,4217.3 L1066.1,4217.3 L1067.0,4289.4 L1067.0,4291.2 L1068.0,4294.6 L1069.0,4298.1 L1070.0,4301.6 L1070.7,4304.1 L1071.0,4300.7 L1072.0,4288.7 L1073.0,4276.7 L1073.5,4270.8 L1074.0,4270.8 L1075.0,4270.8 L1076.0,4270.8 L1077.0,4270.8 L1077.2,4270.8 L1078.0,4270.8 L1078.1,4270.8 L1079.0,4271.7 L1079.0,4271.8 L1080.0,4272.7 L1081.0,4273.7 L1082.0,4274.7 L1083.0,4275.7 L1083.6,4276.4 L1084.0,4278.2 L1085.0,4283.2 L1085.5,4285.6 L1086.0,4288.2 L1087.0,4293.2 L1087.3,4294.8 L1088.0,4295.1 L1089.0,4295.4 L1090.0,4295.7 L1091.0,4296.1 L1092.0,4296.4 L1092.9,4296.7 L1093.0,4287.2 L1094.0,4210.2 L1094.7,4154.5 L1095.0,4146.7 L1096.0,4118.7 L1096.6,4102.8 L1097.0,4101.9 L1098.0,4099.9 L1099.0,4097.9 L1100.0,4095.9 L1100.3,4095.4 L1101.0,4068.9 L1101.2,4062.2 L1102.0,4062.2 L1103.0,4062.2 L1104.0,4062.2 L1105.0,4062.2 L1105.8,4062.2 L1106.0,4112.5 L1106.7,4298.5 L1107.0,4298.7 L1108.0,4299.1 L1109.0,4299.5 L1110.0,4299.9 L1111.0,4300.3 L1111.3,4300.4 L1112.0,4300.7 L1113.0,4301.2 L1114.0,4301.7 L1115.0,4302.2 L1115.0,4302.2 L1116.0,4302.2 L1117.0,4302.2 L1118.0,4302.2 L1119.0,4302.2 L1120.0,4302.2 L1121.0,4302.2 L1122.0,4302.2 L1123.0,4302.2 L1124.0,4302.2 L1124.3,4302.2 L1125.0,4303.3 L1126.0,4304.8 L1127.0,4306.3 L1128.0,4307.8 L1128.0,4307.8 L1129.0,4308.3 L1130.0,4308.8 L1131.0,4309.3 L1131.7,4309.6 L1132.0,4289.8 L1132.6,4256.1 L1133.0,4255.9 L1134.0,4255.5 L1135.0,4255.1 L1136.0,4254.7 L1137.0,4254.3 L1137.2,4254.2 L1138.0,4242.2 L1139.0,4227.2 L1139.0,4226.5 L1140.0,4226.5 L1141.0,4226.5 L1142.0,4226.5 L1143.0,4226.5 L1143.7,4226.5 L1144.0,4230.6 L1145.0,4242.6 L1145.5,4248.7 L1146.0,4256.9 L1147.0,4273.5 L1148.0,4290.2 L1148.3,4294.8 L1149.0,4293.4 L1150.0,4291.4 L1151.0,4289.4 L1151.0,4289.3 L1152.0,4289.6 L1153.0,4290.0 L1154.0,4290.3 L1155.0,4290.6 L1156.0,4291.0 L1156.6,4291.2 L1157.0,4292.8 L1158.0,4296.8 L1159.0,4300.8 L1159.4,4302.2 L1160.0,4303.5 L1161.0,4305.5 L1162.0,4307.5 L1163.0,4309.5 L1164.0,4311.5 L1164.9,4313.3 L1165.0,4313.8 L1166.0,4318.8 L1166.7,4322.5 L1167.0,4322.5 L1168.0,4322.5 L1169.0,4322.5 L1170.0,4322.5 L1171.0,4322.5 L1172.0,4322.5 L1173.0,4322.5 L1174.0,4322.5 L1175.0,4322.5 L1176.0,4322.5 L1177.0,4322.5 L1178.0,4322.5 L1179.0,4322.5 L1180.0,4322.5 L1181.0,4322.5 L1182.0,4322.5 L1183.0,4322.5 L1184.0,4322.5 L1185.0,4322.5 L1186.0,4322.5 L1187.0,4322.5 L1188.0,4322.5 L1189.0,4322.5 L1190.0,4322.5 L1191.0,4322.5 L1192.0,4322.5 L1193.0,4322.5 L1194.0,4322.5 L1195.0,4322.5 L1195.0,4323.5 L1194.0,4323.5 L1193.0,4323.5 L1192.0,4323.5 L1191.0,4323.5 L1190.0,4323.5 L1189.0,4323.5 L1188.0,4323.5 L1187.0,4323.5 L1186.0,4323.5 L1185.0,4323.5 L1184.0,4323.5 L1183.0,4323.5 L1182.0,4323.5 L1181.0,4323.5 L1180.0,4323.5 L1179.0,4323.5 L1178.0,4323.5 L1177.0,4323.5 L1176.0,4323.5 L1175.0,4323.5 L1174.0,4323.5 L1173.0,4323.5 L1172.0,4323.5 L1171.0,4323.5 L1170.0,4323.5 L1169.0,4323.5 L1168.0,4323.5 L1167.0,4323.5 L1166.7,4323.5 L1166.0,4322.5 L1165.0,4322.5 L1164.9,4322.5 L1164.0,4322.5 L1163.0,4322.5 L1162.0,4322.5 L1161.0,4322.5 L1160.0,4322.5 L1159.4,4322.5 L1159.0,4322.5 L1158.0,4322.5 L1157.0,4322.5 L1156.6,4322.5 L1156.0,4322.5 L1155.0,4322.5 L1154.0,4322.5 L1153.0,4322.5 L1152.0,4322.5 L1151.0,4322.5 L1151.0,4322.5 L1150.0,4322.5 L1149.0,4322.5 L1148.3,4322.5 L1148.0,4322.5 L1147.0,4322.5 L1146.0,4322.5 L1145.5,4322.5 L1145.0,4322.5 L1144.0,4322.5 L1143.7,4322.5 L1143.0,4322.5 L1142.0,4322.5 L1141.0,4322.5 L1140.0,4322.5 L1139.0,4322.5 L1139.0,4322.5 L1138.0,4322.5 L1137.2,4322.5 L1137.0,4322.5 L1136.0,4322.5 L1135.0,4322.5 L1134.0,4322.5 L1133.0,4322.5 L1132.6,4322.5 L1132.0,4322.5 L1131.7,4322.5 L1131.0,4322.5 L1130.0,4322.5 L1129.0,4322.5 L1128.0,4322.5 L1128.0,4322.5 L1127.0,4322.5 L1126.0,4322.5 L1125.0,4322.5 L1124.3,4322.5 L1124.0,4322.5 L1123.0,4322.5 L1122.0,4322.5 L1121.0,4322.5 L1120.0,4322.5 L1119.0,4322.5 L1118.0,4322.5 L1117.0,4322.5 L1116.0,4322.5 L1115.0,4322.5 L1115.0,4322.5 L1114.0,4322.5 L1113.0,4322.5 L1112.0,4322.5 L1111.3,4322.5 L1111.0,4322.5 L1110.0,4322.5 L1109.0,4322.5 L1108.0,4322.5 L1107.0,4322.5 L1106.7,4322.5 L1106.0,4322.5 L1105.8,4322.5 L1105.0,4322.5 L1104.0,4322.5 L1103.0,4322.5 L1102.0,4322.5 L1101.2,4322.5 L1101.0,4322.5 L1100.3,4322.5 L1100.0,4322.5 L1099.0,4322.5 L1098.0,4322.5 L1097.0,4322.5 L1096.6,4322.5 L1096.0,4322.5 L1095.0,4322.5 L1094.7,4322.5 L1094.0,4322.5 L1093.0,4322.5 L1092.9,4322.5 L1092.0,4322.5 L1091.0,4322.5 L1090.0,4322.5 L1089.0,4322.5 L1088.0,4322.5 L1087.3,4322.5 L1087.0,4322.5 L1086.0,4322.5 L1085.5,4322.5 L1085.0,4320.1 L1084.0,4315.1 L1083.6,4313.3 L1083.0,4313.3 L1082.0,4313.3 L1081.0,4313.3 L1080.0,4313.3 L1079.0,4313.3 L1079.0,4313.4 L1078.1,4317.9 L1078.0,4318.4 L1077.2,4322.5 L1077.0,4322.5 L1076.0,4322.5 L1075.0,4322.5 L1074.0,4322.5 L1073.5,4322.5 L1073.0,4322.5 L1072.0,4322.5 L1071.0,4322.5 L1070.7,4322.5 L1070.0,4322.5 L1069.0,4322.5 L1068.0,4322.5 L1067.0,4322.5 L1067.0,4322.5 L1066.1,4322.5 L1066.0,4322.5 L1065.0,4322.5 L1064.0,4322.5 L1063.0,4322.5 L1062.0,4322.5 L1061.0,4322.5 L1060.6,4322.5 L1060.0,4322.5 L1059.0,4322.5 L1058.0,4322.5 L1057.0,4322.5 L1056.0,4322.5 L1055.0,4322.5 L1055.0,4322.5 L1054.1,4322.5 L1054.0,4322.5 L1053.0,4322.5 L1052.0,4322.5 L1051.3,4322.5 L1051.0,4320.3 L1050.4,4316.1 L1050.0,4316.1 L1049.0,4316.1 L1048.0,4316.1 L1047.0,4316.1 L1046.7,4316.1 L1046.0,4316.1 L1045.0,4316.1 L1044.9,4316.1 L1044.0,4319.1 L1043.0,4322.5 L1043.0,4322.5 L1042.0,4322.5 L1041.2,4322.5 L1041.0,4322.5 L1040.0,4322.5 L1039.0,4322.5 L1038.4,4322.5 L1038.0,4322.5 L1037.0,4322.5 L1036.0,4322.5 L1035.0,4322.5 L1034.7,4322.5 L1034.0,4322.5 L1033.0,4322.5 L1032.9,4322.5 L1032.0,4322.5 L1031.0,4322.5 L1030.1,4322.5 L1030.0,4322.5 L1029.0,4322.5 L1028.2,4322.5 L1028.0,4322.5 L1027.0,4322.5 L1026.0,4322.5 L1025.5,4322.5 L1025.0,4317.8 L1024.5,4313.3 L1024.0,4313.3 L1023.0,4313.3 L1022.7,4313.3 L1022.0,4316.8 L1021.0,4321.8 L1020.9,4322.5 L1020.0,4322.5 L1019.0,4322.5 L1019.0,4322.5 L1018.0,4322.5 L1017.2,4322.5 L1017.0,4322.5 L1016.0,4322.5 L1015.3,4322.5 L1015.0,4321.4 L1014.0,4317.9 L1013.5,4316.1 L1013.0,4316.1 L1012.0,4316.1 L1011.6,4316.1 L1011.0,4316.1 L1010.0,4316.1 L1009.0,4316.1 L1008.0,4316.1 L1007.0,4316.1 L1007.0,4316.1 L1006.0,4316.1 L1005.0,4316.1 L1004.2,4316.1 L1004.0,4316.9 L1003.3,4319.3 L1003.0,4320.4 L1002.4,4322.5 L1002.0,4321.1 L1001.0,4317.5 L1000.0,4313.9 L999.6,4312.5 L999.0,4310.2 L998.7,4309.1 L998.0,4306.6 L997.8,4305.9 L997.0,4306.2 L996.0,4306.5 L995.0,4306.9 L994.1,4307.2 L994.0,4307.2 L993.2,4307.5 L993.0,4307.5 L992.3,4307.8 L992.0,4306.4 L991.0,4301.8 L990.0,4297.1 L989.5,4294.8 L989.0,4294.8 L988.0,4294.8 L987.7,4294.8 L987.0,4297.5 L986.0,4301.5 L985.0,4305.5 L984.9,4305.9 L984.0,4306.4 L983.1,4306.9 L983.0,4306.9 L982.0,4307.4 L981.2,4307.8 L981.0,4307.9 L980.3,4308.2 L980.0,4308.4 L979.0,4308.9 L978.0,4309.4 L977.5,4309.6 L977.0,4313.2 L976.0,4320.2 L975.7,4322.5 L975.0,4322.5 L974.0,4322.5 L973.0,4322.5 L972.9,4322.5 L972.0,4322.5 L971.0,4322.5 L970.1,4322.5 L970.0,4322.5 L969.0,4322.5 L968.0,4322.5 L967.0,4322.5 L966.4,4322.5 L966.0,4322.5 L965.0,4322.5 L964.0,4322.5 L963.0,4322.5 L962.7,4322.5 L962.0,4322.5 L961.0,4322.5 L960.0,4322.5 L959.0,4322.5 L958.0,4322.5 L957.2,4322.5 L957.0,4322.5 L956.3,4322.5 L956.0,4322.5 L955.0,4322.5 L954.0,4322.5 L953.5,4322.5 L953.0,4322.5 L952.6,4322.5 L952.0,4322.5 L951.0,4322.5 L950.0,4322.5 L949.8,4322.5 L949.0,4319.3 L948.0,4315.3 L948.0,4315.2 L947.0,4315.2 L947.0,4315.2 L946.1,4315.2 L946.0,4315.2 L945.2,4315.2 L945.0,4315.9 L944.0,4319.9 L943.3,4322.5 L943.0,4322.5 L942.0,4322.5 L941.5,4322.5 L941.0,4322.5 L940.0,4322.5 L939.0,4322.5 L938.0,4322.5 L937.8,4322.5 L937.0,4322.5 L936.0,4322.5 L935.0,4322.5 L935.0,4322.5 L934.0,4322.5 L933.0,4322.5 L932.0,4322.5 L931.3,4322.5 L931.0,4322.5 L930.0,4322.5 L929.0,4322.5 L928.0,4322.5 L927.0,4322.5 L926.0,4322.5 L925.8,4322.5 L925.0,4322.5 L924.0,4322.5 L923.0,4322.5 L922.1,4322.5 L922.0,4322.5 L921.0,4322.5 L920.0,4322.5 L919.0,4322.5 L918.4,4322.5 L918.0,4322.5 L917.0,4322.5 L916.0,4322.5 L915.0,4322.5 L914.0,4322.5 L913.0,4322.5 L912.9,4322.5 L912.0,4322.5 L912.0,4322.5 L911.0,4322.5 L910.1,4322.5 L910.0,4322.2 L909.0,4318.7 L908.3,4316.1 L908.0,4316.1 L907.0,4316.1 L906.0,4316.1 L905.5,4316.1 L905.0,4316.1 L904.6,4316.1 L904.0,4318.1 L903.6,4319.3 L903.0,4321.6 L902.7,4322.5 L902.0,4322.5 L901.0,4322.5 L900.0,4322.5 L899.0,4322.5 L898.1,4322.5 L898.0,4322.5 L897.0,4322.5 L896.0,4322.5 L895.0,4322.5 L894.0,4322.5 L893.5,4322.5 L893.0,4322.5 L892.0,4322.5 L891.0,4322.5 L890.0,4322.5 L889.0,4322.5 L888.9,4322.5 L888.0,4322.5 L887.0,4322.5 L886.1,4322.5 L886.0,4322.5 L885.2,4322.5 L885.0,4322.5 L884.3,4322.5 L884.0,4321.7 L883.0,4318.2 L882.4,4316.1 L882.0,4316.1 L881.5,4316.1 L881.0,4316.1 L880.0,4316.1 L879.6,4316.1 L879.0,4316.1 L878.0,4316.1 L877.0,4316.1 L876.9,4316.1 L876.0,4319.1 L875.0,4322.5 L875.0,4322.5 L874.0,4322.5 L873.0,4322.5 L872.2,4322.5 L872.0,4322.5 L871.0,4322.5 L870.0,4322.5 L869.0,4322.5 L868.0,4322.5 L867.6,4322.5 L867.0,4322.5 L866.0,4322.5 L865.0,4322.5 L864.9,4322.5 L864.0,4322.5 L863.0,4322.5 L863.0,4322.5 L862.0,4322.5 L861.0,4322.5 L860.0,4322.5 L859.3,4322.5 L859.0,4322.5 L858.0,4322.5 L857.0,4322.5 L856.6,4322.5 L856.0,4322.5 L855.0,4322.5 L854.0,4322.5 L853.8,4322.5 L853.0,4322.5 L852.9,4322.5 L852.0,4322.5 L851.0,4322.5 L850.0,4322.5 L849.0,4322.5 L848.0,4322.5 L847.3,4322.5 L847.0,4322.5 L846.4,4322.5 L846.0,4322.5 L845.0,4322.5 L844.0,4322.5 L843.0,4322.5 L842.7,4322.5 L842.0,4322.5 L841.8,4322.5 L841.0,4322.5 L840.0,4322.5 L839.0,4322.5 L838.0,4322.5 L837.2,4322.5 L837.0,4322.5 L836.2,4322.5 L836.0,4322.5 L835.0,4322.5 L834.0,4322.5 L833.5,4322.5 L833.0,4322.5 L832.5,4322.5 L832.0,4322.5 L831.0,4322.5 L830.0,4322.5 L829.0,4322.5 L828.0,4322.5 L827.9,4322.5 L827.0,4323.5 L827.0,4323.5 L826.0,4323.5 L825.0,4323.5 L824.0,4323.5 L823.0,4323.5 L822.0,4323.5 L821.0,4323.5 L820.0,4323.5 L819.0,4323.5 L818.0,4323.5 L817.0,4323.5 L816.0,4323.5 L815.0,4323.5 Z" fill="#0a74ba" stroke="#0a74ba" stroke-width="1.2" stroke-linejoin="miter"/>
<path d="M989.5,4100.0 L989.8,4046.0 L993.2,4046.0 L993.5,4100.0 Z" fill="#0a74ba" stroke="#0a74ba" stroke-width="1"/>
</g>
<text x="957.4" y="4440.0" class="xl">cm<tspan class="sup" dx="-6" dy="-31">-1</tspan></text>
<text transform="translate(71.8,4182.7) rotate(-90)" text-anchor="middle" class="yl" textLength="322" lengthAdjust="spacingAndGlyphs">Relative Match</text>
<rect x="274.7" y="4481.8" width="1456.1" height="277.5" fill="none" stroke="#404040" stroke-width="3"/>
<text transform="translate(256.2,4776.3) scale(0.96,1)" text-anchor="end" class="t">0</text>
<path d="M274.7,4705.8h15M1730.8,4705.8h-15" stroke="#404040" stroke-width="3"/>
<text transform="translate(256.2,4722.8) scale(0.96,1)" text-anchor="end" class="t">200000</text>
<path d="M274.7,4652.3h15M1730.8,4652.3h-15" stroke="#404040" stroke-width="3"/>
<text transform="translate(256.2,4669.3) scale(0.96,1)" text-anchor="end" class="t">400000</text>
<path d="M274.7,4598.7h15M1730.8,4598.7h-15" stroke="#404040" stroke-width="3"/>
<text transform="translate(256.2,4615.7) scale(0.96,1)" text-anchor="end" class="t">600000</text>
<path d="M274.7,4545.2h15M1730.8,4545.2h-15" stroke="#404040" stroke-width="3"/>
<text transform="translate(256.2,4562.2) scale(0.96,1)" text-anchor="end" class="t">800000</text>
<path d="M274.7,4491.7h15M1730.8,4491.7h-15" stroke="#404040" stroke-width="3"/>
<text transform="translate(256.2,4508.7) scale(0.94,1)" text-anchor="end" class="t">1e+006</text>
<text transform="translate(274.7,4817.9) scale(0.96,1)" text-anchor="middle" class="t">3960</text>
<path d="M638.7,4759.3v-15M638.7,4481.8v15" stroke="#404040" stroke-width="3"/>
<text transform="translate(638.7,4817.9) scale(0.96,1)" text-anchor="middle" class="t">3980</text>
<path d="M1002.8,4759.3v-15M1002.8,4481.8v15" stroke="#404040" stroke-width="3"/>
<text transform="translate(1002.8,4817.9) scale(0.96,1)" text-anchor="middle" class="t">4000</text>
<path d="M1366.8,4759.3v-15M1366.8,4481.8v15" stroke="#404040" stroke-width="3"/>
<text transform="translate(1366.8,4817.9) scale(0.96,1)" text-anchor="middle" class="t">4020</text>
<text transform="translate(1730.8,4817.9) scale(0.96,1)" text-anchor="middle" class="t">4040</text>
<clipPath id="c4481"><rect x="271.7" y="4479.8" width="1462.1" height="281.5"/></clipPath>
<g clip-path="url(#c4481)">
<path d="M274.7,4709.2 C277.3,4710.9 284.4,4717.7 290.5,4719.4 C296.6,4721.1 304.2,4722.2 311.0,4719.4 C317.8,4716.5 322.4,4710.6 331.5,4702.3 C340.6,4694.0 355.4,4670.6 365.7,4669.5 C375.9,4668.4 383.3,4684.6 393.0,4695.5 C402.7,4706.4 414.6,4732.2 423.7,4735.1 C432.8,4738.0 439.1,4726.0 447.7,4712.6 C456.2,4699.2 466.5,4682.4 475.0,4654.5 C483.5,4626.6 490.9,4574.0 498.9,4545.2 C506.9,4516.4 514.8,4482.6 522.8,4481.5 C530.8,4480.4 538.7,4514.0 546.7,4538.3 C554.7,4562.6 563.2,4609.9 570.6,4627.2 C578.0,4644.5 579.7,4640.5 591.1,4642.2 C602.5,4643.9 626.5,4636.3 639.0,4637.4 C651.5,4638.5 657.2,4639.3 666.3,4649.0 C675.4,4658.7 682.2,4681.5 693.6,4695.5 C705.0,4709.5 723.2,4729.1 734.6,4733.1 C746.0,4737.1 750.6,4727.4 762.0,4719.4 C773.4,4711.4 792.8,4689.2 803.0,4685.2 C813.2,4681.2 816.1,4691.7 823.5,4695.5 C830.9,4699.3 837.1,4709.2 847.4,4707.8 C857.6,4706.4 874.2,4688.2 885.0,4687.3 C895.8,4686.4 902.0,4698.4 912.3,4702.3 C922.5,4706.2 935.1,4709.6 946.5,4710.5 C957.9,4711.4 970.4,4709.2 980.6,4707.8 C990.9,4706.4 997.2,4702.9 1008.0,4702.3 C1018.8,4701.7 1035.7,4705.7 1045.4,4704.1 C1055.1,4702.6 1058.7,4696.8 1066.2,4693.0 C1073.7,4689.2 1082.9,4681.4 1090.4,4681.2 C1097.9,4681.0 1103.7,4687.6 1111.2,4691.6 C1118.7,4695.7 1126.8,4703.4 1135.4,4705.5 C1144.1,4707.6 1153.9,4703.0 1163.1,4704.1 C1172.3,4705.2 1179.2,4708.9 1190.8,4712.4 C1202.3,4715.8 1219.7,4719.8 1232.4,4724.8 C1245.1,4729.8 1255.5,4738.3 1267.0,4742.2 C1278.5,4746.1 1288.9,4748.8 1301.6,4748.4 C1314.3,4748.0 1330.5,4744.0 1343.2,4740.1 C1355.9,4736.2 1364.0,4729.2 1377.8,4724.8 C1391.6,4720.4 1410.1,4713.8 1426.3,4713.8 C1442.5,4713.8 1459.2,4720.7 1474.8,4724.8 C1490.4,4728.9 1507.1,4739.0 1519.8,4738.7 C1532.5,4738.4 1541.1,4726.9 1550.9,4722.8 C1560.7,4718.7 1568.2,4713.2 1578.6,4713.8 C1589.0,4714.4 1600.0,4721.8 1613.3,4726.2 C1626.6,4730.6 1644.4,4738.7 1658.3,4740.1 C1672.2,4741.5 1684.3,4736.3 1696.4,4734.5 C1708.5,4732.7 1725.1,4730.3 1730.8,4729.5" fill="none" stroke="#0a74ba" stroke-width="5.0" stroke-linejoin="round" stroke-linecap="round"/>
</g>
<text x="957.4" y="4878.2" class="xl">cm<tspan class="sup" dx="-6" dy="-31">-1</tspan></text>
<text transform="translate(99.5,4620) rotate(-90)" text-anchor="middle" class="yl" textLength="322" lengthAdjust="spacingAndGlyphs">Relative Match</text>
<text transform="translate(1933.1,4459.7) scale(0.874,1)" class="lab">(E)</text>
</svg>
</body></html>
